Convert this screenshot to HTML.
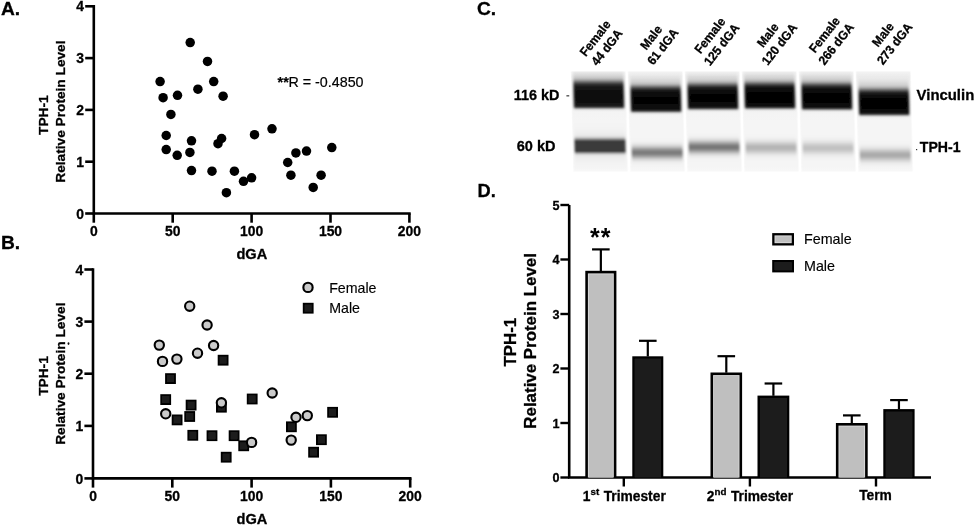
<!DOCTYPE html>
<html><head><meta charset="utf-8"><style>
html,body{margin:0;padding:0;background:#fff;width:975px;height:527px;overflow:hidden}
svg{display:block}
text{font-family:"Liberation Sans",sans-serif}
.b{font-weight:bold;stroke:#000;stroke-width:0.3px}
</style></head><body>
<svg width="975" height="527" viewBox="0 0 975 527">
<defs>
<filter id="bl" x="-20%" y="-60%" width="140%" height="220%"><feGaussianBlur stdDeviation="0.8 1.6"/></filter>
<filter id="bl2" x="-20%" y="-60%" width="140%" height="220%"><feGaussianBlur stdDeviation="0.8 1.2"/></filter>
<linearGradient id="lanebg" x1="0" y1="0" x2="0" y2="1">
<stop offset="0" stop-color="#f4f4f4"/><stop offset="0.1" stop-color="#e6e6e6"/><stop offset="1" stop-color="#f3f3f3"/>
</linearGradient>
<filter id="gb" x="0" y="0" width="100%" height="100%" filterUnits="userSpaceOnUse"><feGaussianBlur stdDeviation="0.35"/></filter>
</defs>
<rect width="975" height="527" fill="#fff"/>
<g filter="url(#gb)">

<text class="b" x="1.0" y="14.6" font-size="19.2">A.</text>
<path d="M93.8 6.3V213.5H409.4" fill="none" stroke="#000" stroke-width="2.6" stroke-linecap="square"/>
<line x1="85.2" y1="213.5" x2="93.8" y2="213.5" stroke="#000" stroke-width="2.6"/>
<text class="b" x="84.0" y="218.6" font-size="13.9" text-anchor="end">0</text>
<line x1="85.2" y1="161.7" x2="93.8" y2="161.7" stroke="#000" stroke-width="2.6"/>
<text class="b" x="84.0" y="166.79999999999998" font-size="13.9" text-anchor="end">1</text>
<line x1="85.2" y1="109.9" x2="93.8" y2="109.9" stroke="#000" stroke-width="2.6"/>
<text class="b" x="84.0" y="115.0" font-size="13.9" text-anchor="end">2</text>
<line x1="85.2" y1="58.1" x2="93.8" y2="58.1" stroke="#000" stroke-width="2.6"/>
<text class="b" x="84.0" y="63.2" font-size="13.9" text-anchor="end">3</text>
<line x1="85.2" y1="6.3" x2="93.8" y2="6.3" stroke="#000" stroke-width="2.6"/>
<text class="b" x="84.0" y="11.399999999999999" font-size="13.9" text-anchor="end">4</text>
<line x1="93.8" y1="213.5" x2="93.8" y2="222.7" stroke="#000" stroke-width="2.6"/>
<text class="b" x="93.8" y="235.9" font-size="13.9" text-anchor="middle">0</text>
<line x1="172.7" y1="213.5" x2="172.7" y2="222.7" stroke="#000" stroke-width="2.6"/>
<text class="b" x="172.7" y="235.9" font-size="13.9" text-anchor="middle">50</text>
<line x1="251.6" y1="213.5" x2="251.6" y2="222.7" stroke="#000" stroke-width="2.6"/>
<text class="b" x="251.6" y="235.9" font-size="13.9" text-anchor="middle">100</text>
<line x1="330.5" y1="213.5" x2="330.5" y2="222.7" stroke="#000" stroke-width="2.6"/>
<text class="b" x="330.5" y="235.9" font-size="13.9" text-anchor="middle">150</text>
<line x1="409.4" y1="213.5" x2="409.4" y2="222.7" stroke="#000" stroke-width="2.6"/>
<text class="b" x="409.4" y="235.9" font-size="13.9" text-anchor="middle">200</text>
<text class="b" x="251.8" y="259.3" font-size="14.6" text-anchor="middle">dGA</text>
<text class="b" font-size="13.7" text-anchor="middle" transform="translate(64.8 111.6) rotate(-90)">Relative Protein Level</text>
<text class="b" font-size="13.7" text-anchor="middle" transform="translate(48.3 115.2) rotate(-90)">TPH-1</text>
<text x="277.6" y="87" font-size="14.3" stroke="#000" stroke-width="0.2"><tspan font-weight="bold" dy="-0.3">**</tspan><tspan dy="0.3" dx="-0.3">R = -0.4850</tspan></text>
<circle cx="190.2" cy="42.6" r="4.75" fill="#000"/>
<circle cx="207.5" cy="61.4" r="4.75" fill="#000"/>
<circle cx="160.1" cy="81.6" r="4.75" fill="#000"/>
<circle cx="213.7" cy="81.6" r="4.75" fill="#000"/>
<circle cx="197.9" cy="89.2" r="4.75" fill="#000"/>
<circle cx="163.1" cy="97.7" r="4.75" fill="#000"/>
<circle cx="177.5" cy="95.3" r="4.75" fill="#000"/>
<circle cx="223.1" cy="96.2" r="4.75" fill="#000"/>
<circle cx="170.9" cy="114.4" r="4.75" fill="#000"/>
<circle cx="166.2" cy="135.5" r="4.75" fill="#000"/>
<circle cx="191.5" cy="140.8" r="4.75" fill="#000"/>
<circle cx="221.6" cy="138.5" r="4.75" fill="#000"/>
<circle cx="218.0" cy="143.7" r="4.75" fill="#000"/>
<circle cx="254.5" cy="134.7" r="4.75" fill="#000"/>
<circle cx="166.2" cy="149.6" r="4.75" fill="#000"/>
<circle cx="177.2" cy="155.3" r="4.75" fill="#000"/>
<circle cx="189.9" cy="152.4" r="4.75" fill="#000"/>
<circle cx="191.5" cy="170.6" r="4.75" fill="#000"/>
<circle cx="212.0" cy="171.2" r="4.75" fill="#000"/>
<circle cx="234.4" cy="171.2" r="4.75" fill="#000"/>
<circle cx="243.5" cy="181.3" r="4.75" fill="#000"/>
<circle cx="251.6" cy="177.8" r="4.75" fill="#000"/>
<circle cx="226.4" cy="192.7" r="4.75" fill="#000"/>
<circle cx="272.0" cy="128.8" r="4.75" fill="#000"/>
<circle cx="295.9" cy="152.9" r="4.75" fill="#000"/>
<circle cx="306.5" cy="151.1" r="4.75" fill="#000"/>
<circle cx="331.8" cy="147.6" r="4.75" fill="#000"/>
<circle cx="287.7" cy="162.5" r="4.75" fill="#000"/>
<circle cx="290.9" cy="175.2" r="4.75" fill="#000"/>
<circle cx="321.1" cy="175.2" r="4.75" fill="#000"/>
<circle cx="313.2" cy="187.4" r="4.75" fill="#000"/>
<text class="b" x="1.0" y="248.6" font-size="19.2">B.</text>
<path d="M93.0 269.5V478.4H410.2" fill="none" stroke="#000" stroke-width="2.6" stroke-linecap="square"/>
<line x1="84.4" y1="478.4" x2="93.0" y2="478.4" stroke="#000" stroke-width="2.6"/>
<text class="b" x="83.2" y="483.5" font-size="13.9" text-anchor="end">0</text>
<line x1="84.4" y1="425.9" x2="93.0" y2="425.9" stroke="#000" stroke-width="2.6"/>
<text class="b" x="83.2" y="431.0" font-size="13.9" text-anchor="end">1</text>
<line x1="84.4" y1="373.7" x2="93.0" y2="373.7" stroke="#000" stroke-width="2.6"/>
<text class="b" x="83.2" y="378.8" font-size="13.9" text-anchor="end">2</text>
<line x1="84.4" y1="321.6" x2="93.0" y2="321.6" stroke="#000" stroke-width="2.6"/>
<text class="b" x="83.2" y="326.70000000000005" font-size="13.9" text-anchor="end">3</text>
<line x1="84.4" y1="269.5" x2="93.0" y2="269.5" stroke="#000" stroke-width="2.6"/>
<text class="b" x="83.2" y="274.6" font-size="13.9" text-anchor="end">4</text>
<line x1="93.0" y1="478.4" x2="93.0" y2="487.59999999999997" stroke="#000" stroke-width="2.6"/>
<text class="b" x="93.0" y="500.6" font-size="13.9" text-anchor="middle">0</text>
<line x1="172.3" y1="478.4" x2="172.3" y2="487.59999999999997" stroke="#000" stroke-width="2.6"/>
<text class="b" x="172.3" y="500.6" font-size="13.9" text-anchor="middle">50</text>
<line x1="251.6" y1="478.4" x2="251.6" y2="487.59999999999997" stroke="#000" stroke-width="2.6"/>
<text class="b" x="251.6" y="500.6" font-size="13.9" text-anchor="middle">100</text>
<line x1="330.9" y1="478.4" x2="330.9" y2="487.59999999999997" stroke="#000" stroke-width="2.6"/>
<text class="b" x="330.9" y="500.6" font-size="13.9" text-anchor="middle">150</text>
<line x1="410.2" y1="478.4" x2="410.2" y2="487.59999999999997" stroke="#000" stroke-width="2.6"/>
<text class="b" x="410.2" y="500.6" font-size="13.9" text-anchor="middle">200</text>
<text class="b" x="252" y="524.4" font-size="14.6" text-anchor="middle">dGA</text>
<text class="b" font-size="13.7" text-anchor="middle" transform="translate(64.8 373.7) rotate(-90)">Relative Protein Level</text>
<text class="b" font-size="13.7" text-anchor="middle" transform="translate(48.2 376) rotate(-90)">TPH-1</text>
<ellipse cx="68.5" cy="343.6" rx="0.9" ry="1.3" fill="#111"/>
<rect x="218.6" y="355.7" width="9" height="9" fill="#1e1e1e" stroke="#000" stroke-width="1.8"/>
<rect x="166.0" y="374.09999999999997" width="9" height="9" fill="#1e1e1e" stroke="#000" stroke-width="1.8"/>
<rect x="161.2" y="395.09999999999997" width="9" height="9" fill="#1e1e1e" stroke="#000" stroke-width="1.8"/>
<rect x="186.6" y="400.59999999999997" width="9" height="9" fill="#1e1e1e" stroke="#000" stroke-width="1.8"/>
<rect x="216.9" y="402.7" width="9" height="9" fill="#1e1e1e" stroke="#000" stroke-width="1.8"/>
<rect x="247.7" y="394.5" width="9" height="9" fill="#1e1e1e" stroke="#000" stroke-width="1.8"/>
<rect x="172.6" y="415.4" width="9" height="9" fill="#1e1e1e" stroke="#000" stroke-width="1.8"/>
<rect x="185.2" y="412.0" width="9" height="9" fill="#1e1e1e" stroke="#000" stroke-width="1.8"/>
<rect x="188.3" y="430.8" width="9" height="9" fill="#1e1e1e" stroke="#000" stroke-width="1.8"/>
<rect x="207.5" y="431.2" width="9" height="9" fill="#1e1e1e" stroke="#000" stroke-width="1.8"/>
<rect x="229.6" y="431.2" width="9" height="9" fill="#1e1e1e" stroke="#000" stroke-width="1.8"/>
<rect x="239.2" y="441.3" width="9" height="9" fill="#1e1e1e" stroke="#000" stroke-width="1.8"/>
<rect x="221.7" y="452.7" width="9" height="9" fill="#1e1e1e" stroke="#000" stroke-width="1.8"/>
<rect x="328.1" y="407.8" width="9" height="9" fill="#1e1e1e" stroke="#000" stroke-width="1.8"/>
<rect x="286.9" y="422.3" width="9" height="9" fill="#1e1e1e" stroke="#000" stroke-width="1.8"/>
<rect x="316.9" y="435.2" width="9" height="9" fill="#1e1e1e" stroke="#000" stroke-width="1.8"/>
<rect x="309.1" y="447.7" width="9" height="9" fill="#1e1e1e" stroke="#000" stroke-width="1.8"/>
<circle cx="189.7" cy="306.2" r="4.65" fill="#cacaca" stroke="#000" stroke-width="2.1"/>
<circle cx="207.1" cy="325.0" r="4.65" fill="#cacaca" stroke="#000" stroke-width="2.1"/>
<circle cx="159.3" cy="345.1" r="4.65" fill="#cacaca" stroke="#000" stroke-width="2.1"/>
<circle cx="213.6" cy="345.5" r="4.65" fill="#cacaca" stroke="#000" stroke-width="2.1"/>
<circle cx="197.5" cy="353.2" r="4.65" fill="#cacaca" stroke="#000" stroke-width="2.1"/>
<circle cx="162.5" cy="361.4" r="4.65" fill="#cacaca" stroke="#000" stroke-width="2.1"/>
<circle cx="176.9" cy="359.1" r="4.65" fill="#cacaca" stroke="#000" stroke-width="2.1"/>
<circle cx="221.4" cy="402.8" r="4.65" fill="#cacaca" stroke="#000" stroke-width="2.1"/>
<circle cx="165.7" cy="413.8" r="4.65" fill="#cacaca" stroke="#000" stroke-width="2.1"/>
<circle cx="251.6" cy="442.4" r="4.65" fill="#cacaca" stroke="#000" stroke-width="2.1"/>
<circle cx="272.2" cy="393.0" r="4.65" fill="#cacaca" stroke="#000" stroke-width="2.1"/>
<circle cx="296.0" cy="417.3" r="4.65" fill="#cacaca" stroke="#000" stroke-width="2.1"/>
<circle cx="307.3" cy="415.6" r="4.65" fill="#cacaca" stroke="#000" stroke-width="2.1"/>
<circle cx="291.2" cy="440.1" r="4.65" fill="#cacaca" stroke="#000" stroke-width="2.1"/>
<circle cx="308" cy="287.4" r="4.65" fill="#cacaca" stroke="#000" stroke-width="2.1"/>
<rect x="303.7" y="303.7" width="9" height="9" fill="#1e1e1e" stroke="#000" stroke-width="1.8"/>
<text x="329.2" y="292.6" font-size="14.2" stroke="#000" stroke-width="0.15">Female</text>
<text x="329.2" y="313.4" font-size="14.2" stroke="#000" stroke-width="0.15">Male</text>
<text class="b" x="477.0" y="14.6" font-size="19.2">C.</text>
<defs><linearGradient id="ug0" gradientUnits="userSpaceOnUse" x1="0" y1="71.4" x2="0" y2="171.6"><stop offset="0.000" stop-color="#000" stop-opacity="0.032"/><stop offset="0.005" stop-color="#000" stop-opacity="0.039"/><stop offset="0.010" stop-color="#000" stop-opacity="0.046"/><stop offset="0.015" stop-color="#000" stop-opacity="0.054"/><stop offset="0.020" stop-color="#000" stop-opacity="0.062"/><stop offset="0.025" stop-color="#000" stop-opacity="0.071"/><stop offset="0.030" stop-color="#000" stop-opacity="0.079"/><stop offset="0.035" stop-color="#000" stop-opacity="0.088"/><stop offset="0.040" stop-color="#000" stop-opacity="0.098"/><stop offset="0.045" stop-color="#000" stop-opacity="0.108"/><stop offset="0.050" stop-color="#000" stop-opacity="0.120"/><stop offset="0.055" stop-color="#000" stop-opacity="0.134"/><stop offset="0.060" stop-color="#000" stop-opacity="0.152"/><stop offset="0.065" stop-color="#000" stop-opacity="0.174"/><stop offset="0.070" stop-color="#000" stop-opacity="0.201"/><stop offset="0.075" stop-color="#000" stop-opacity="0.235"/><stop offset="0.080" stop-color="#000" stop-opacity="0.274"/><stop offset="0.085" stop-color="#000" stop-opacity="0.320"/><stop offset="0.090" stop-color="#000" stop-opacity="0.370"/><stop offset="0.095" stop-color="#000" stop-opacity="0.425"/><stop offset="0.100" stop-color="#000" stop-opacity="0.483"/><stop offset="0.105" stop-color="#000" stop-opacity="0.541"/><stop offset="0.110" stop-color="#000" stop-opacity="0.598"/><stop offset="0.115" stop-color="#000" stop-opacity="0.652"/><stop offset="0.120" stop-color="#000" stop-opacity="0.702"/><stop offset="0.125" stop-color="#000" stop-opacity="0.746"/><stop offset="0.130" stop-color="#000" stop-opacity="0.785"/><stop offset="0.135" stop-color="#000" stop-opacity="0.817"/><stop offset="0.140" stop-color="#000" stop-opacity="0.843"/><stop offset="0.145" stop-color="#000" stop-opacity="0.864"/><stop offset="0.150" stop-color="#000" stop-opacity="0.881"/><stop offset="0.155" stop-color="#000" stop-opacity="0.894"/><stop offset="0.160" stop-color="#000" stop-opacity="0.904"/><stop offset="0.165" stop-color="#000" stop-opacity="0.912"/><stop offset="0.170" stop-color="#000" stop-opacity="0.918"/><stop offset="0.175" stop-color="#000" stop-opacity="0.923"/><stop offset="0.180" stop-color="#000" stop-opacity="0.927"/><stop offset="0.185" stop-color="#000" stop-opacity="0.931"/><stop offset="0.190" stop-color="#000" stop-opacity="0.934"/><stop offset="0.195" stop-color="#000" stop-opacity="0.938"/><stop offset="0.200" stop-color="#000" stop-opacity="0.940"/><stop offset="0.205" stop-color="#000" stop-opacity="0.943"/><stop offset="0.210" stop-color="#000" stop-opacity="0.946"/><stop offset="0.215" stop-color="#000" stop-opacity="0.948"/><stop offset="0.220" stop-color="#000" stop-opacity="0.950"/><stop offset="0.225" stop-color="#000" stop-opacity="0.952"/><stop offset="0.230" stop-color="#000" stop-opacity="0.953"/><stop offset="0.235" stop-color="#000" stop-opacity="0.954"/><stop offset="0.240" stop-color="#000" stop-opacity="0.955"/><stop offset="0.245" stop-color="#000" stop-opacity="0.955"/><stop offset="0.250" stop-color="#000" stop-opacity="0.955"/><stop offset="0.255" stop-color="#000" stop-opacity="0.955"/><stop offset="0.260" stop-color="#000" stop-opacity="0.954"/><stop offset="0.265" stop-color="#000" stop-opacity="0.953"/><stop offset="0.270" stop-color="#000" stop-opacity="0.951"/><stop offset="0.275" stop-color="#000" stop-opacity="0.949"/><stop offset="0.280" stop-color="#000" stop-opacity="0.947"/><stop offset="0.285" stop-color="#000" stop-opacity="0.945"/><stop offset="0.290" stop-color="#000" stop-opacity="0.942"/><stop offset="0.295" stop-color="#000" stop-opacity="0.939"/><stop offset="0.300" stop-color="#000" stop-opacity="0.936"/><stop offset="0.305" stop-color="#000" stop-opacity="0.934"/><stop offset="0.310" stop-color="#000" stop-opacity="0.931"/><stop offset="0.315" stop-color="#000" stop-opacity="0.927"/><stop offset="0.320" stop-color="#000" stop-opacity="0.924"/><stop offset="0.325" stop-color="#000" stop-opacity="0.920"/><stop offset="0.330" stop-color="#000" stop-opacity="0.915"/><stop offset="0.335" stop-color="#000" stop-opacity="0.905"/><stop offset="0.340" stop-color="#000" stop-opacity="0.886"/><stop offset="0.345" stop-color="#000" stop-opacity="0.853"/><stop offset="0.350" stop-color="#000" stop-opacity="0.798"/><stop offset="0.355" stop-color="#000" stop-opacity="0.717"/><stop offset="0.360" stop-color="#000" stop-opacity="0.609"/><stop offset="0.365" stop-color="#000" stop-opacity="0.485"/><stop offset="0.370" stop-color="#000" stop-opacity="0.356"/><stop offset="0.375" stop-color="#000" stop-opacity="0.240"/><stop offset="0.380" stop-color="#000" stop-opacity="0.146"/><stop offset="0.385" stop-color="#000" stop-opacity="0.081"/><stop offset="0.390" stop-color="#000" stop-opacity="0.040"/><stop offset="0.395" stop-color="#000" stop-opacity="0.018"/><stop offset="0.400" stop-color="#000" stop-opacity="0.007"/><stop offset="0.405" stop-color="#000" stop-opacity="0.002"/><stop offset="0.410" stop-color="#000" stop-opacity="0.001"/><stop offset="0.415" stop-color="#000" stop-opacity="0.000"/><stop offset="0.420" stop-color="#000" stop-opacity="0.000"/><stop offset="0.425" stop-color="#000" stop-opacity="0.000"/><stop offset="0.430" stop-color="#000" stop-opacity="0.000"/><stop offset="0.435" stop-color="#000" stop-opacity="0.000"/><stop offset="0.440" stop-color="#000" stop-opacity="0.000"/><stop offset="0.445" stop-color="#000" stop-opacity="0.000"/><stop offset="0.450" stop-color="#000" stop-opacity="0.000"/><stop offset="0.455" stop-color="#000" stop-opacity="0.000"/><stop offset="0.460" stop-color="#000" stop-opacity="0.000"/><stop offset="0.465" stop-color="#000" stop-opacity="0.000"/><stop offset="0.470" stop-color="#000" stop-opacity="0.000"/><stop offset="0.475" stop-color="#000" stop-opacity="0.000"/><stop offset="0.480" stop-color="#000" stop-opacity="0.000"/><stop offset="0.485" stop-color="#000" stop-opacity="0.000"/><stop offset="0.490" stop-color="#000" stop-opacity="0.000"/><stop offset="0.495" stop-color="#000" stop-opacity="0.000"/><stop offset="0.500" stop-color="#000" stop-opacity="0.000"/><stop offset="0.505" stop-color="#000" stop-opacity="0.000"/><stop offset="0.510" stop-color="#000" stop-opacity="0.000"/><stop offset="0.515" stop-color="#000" stop-opacity="0.000"/><stop offset="0.520" stop-color="#000" stop-opacity="0.000"/><stop offset="0.525" stop-color="#000" stop-opacity="0.000"/><stop offset="0.530" stop-color="#000" stop-opacity="0.000"/><stop offset="0.535" stop-color="#000" stop-opacity="0.000"/><stop offset="0.540" stop-color="#000" stop-opacity="0.000"/><stop offset="0.545" stop-color="#000" stop-opacity="0.000"/><stop offset="0.550" stop-color="#000" stop-opacity="0.000"/><stop offset="0.555" stop-color="#000" stop-opacity="0.000"/><stop offset="0.560" stop-color="#000" stop-opacity="0.000"/><stop offset="0.565" stop-color="#000" stop-opacity="0.000"/><stop offset="0.570" stop-color="#000" stop-opacity="0.000"/><stop offset="0.575" stop-color="#000" stop-opacity="0.000"/><stop offset="0.580" stop-color="#000" stop-opacity="0.000"/><stop offset="0.585" stop-color="#000" stop-opacity="0.000"/><stop offset="0.590" stop-color="#000" stop-opacity="0.000"/><stop offset="0.595" stop-color="#000" stop-opacity="0.000"/><stop offset="0.600" stop-color="#000" stop-opacity="0.000"/><stop offset="0.605" stop-color="#000" stop-opacity="0.000"/><stop offset="0.610" stop-color="#000" stop-opacity="0.000"/><stop offset="0.615" stop-color="#000" stop-opacity="0.000"/><stop offset="0.620" stop-color="#000" stop-opacity="0.000"/><stop offset="0.625" stop-color="#000" stop-opacity="0.000"/><stop offset="0.630" stop-color="#000" stop-opacity="0.000"/><stop offset="0.635" stop-color="#000" stop-opacity="0.000"/><stop offset="0.640" stop-color="#000" stop-opacity="0.000"/><stop offset="0.645" stop-color="#000" stop-opacity="0.000"/><stop offset="0.650" stop-color="#000" stop-opacity="0.000"/><stop offset="0.655" stop-color="#000" stop-opacity="0.000"/><stop offset="0.660" stop-color="#000" stop-opacity="0.000"/><stop offset="0.665" stop-color="#000" stop-opacity="0.000"/><stop offset="0.670" stop-color="#000" stop-opacity="0.000"/><stop offset="0.675" stop-color="#000" stop-opacity="0.000"/><stop offset="0.680" stop-color="#000" stop-opacity="0.000"/><stop offset="0.685" stop-color="#000" stop-opacity="0.000"/><stop offset="0.690" stop-color="#000" stop-opacity="0.000"/><stop offset="0.695" stop-color="#000" stop-opacity="0.000"/><stop offset="0.700" stop-color="#000" stop-opacity="0.000"/><stop offset="0.705" stop-color="#000" stop-opacity="0.000"/><stop offset="0.710" stop-color="#000" stop-opacity="0.000"/><stop offset="0.715" stop-color="#000" stop-opacity="0.000"/><stop offset="0.720" stop-color="#000" stop-opacity="0.000"/><stop offset="0.725" stop-color="#000" stop-opacity="0.000"/><stop offset="0.730" stop-color="#000" stop-opacity="0.000"/><stop offset="0.735" stop-color="#000" stop-opacity="0.000"/><stop offset="0.740" stop-color="#000" stop-opacity="0.000"/><stop offset="0.745" stop-color="#000" stop-opacity="0.000"/><stop offset="0.750" stop-color="#000" stop-opacity="0.000"/><stop offset="0.755" stop-color="#000" stop-opacity="0.000"/><stop offset="0.760" stop-color="#000" stop-opacity="0.000"/><stop offset="0.765" stop-color="#000" stop-opacity="0.000"/><stop offset="0.770" stop-color="#000" stop-opacity="0.000"/><stop offset="0.775" stop-color="#000" stop-opacity="0.000"/><stop offset="0.780" stop-color="#000" stop-opacity="0.000"/><stop offset="0.785" stop-color="#000" stop-opacity="0.000"/><stop offset="0.790" stop-color="#000" stop-opacity="0.000"/><stop offset="0.795" stop-color="#000" stop-opacity="0.000"/><stop offset="0.800" stop-color="#000" stop-opacity="0.000"/><stop offset="0.805" stop-color="#000" stop-opacity="0.000"/><stop offset="0.810" stop-color="#000" stop-opacity="0.000"/><stop offset="0.815" stop-color="#000" stop-opacity="0.000"/><stop offset="0.820" stop-color="#000" stop-opacity="0.000"/><stop offset="0.825" stop-color="#000" stop-opacity="0.000"/><stop offset="0.830" stop-color="#000" stop-opacity="0.000"/><stop offset="0.835" stop-color="#000" stop-opacity="0.000"/><stop offset="0.840" stop-color="#000" stop-opacity="0.000"/><stop offset="0.845" stop-color="#000" stop-opacity="0.000"/><stop offset="0.850" stop-color="#000" stop-opacity="0.000"/><stop offset="0.855" stop-color="#000" stop-opacity="0.000"/><stop offset="0.860" stop-color="#000" stop-opacity="0.000"/><stop offset="0.865" stop-color="#000" stop-opacity="0.000"/><stop offset="0.870" stop-color="#000" stop-opacity="0.000"/><stop offset="0.875" stop-color="#000" stop-opacity="0.000"/><stop offset="0.880" stop-color="#000" stop-opacity="0.000"/><stop offset="0.885" stop-color="#000" stop-opacity="0.000"/><stop offset="0.890" stop-color="#000" stop-opacity="0.000"/><stop offset="0.895" stop-color="#000" stop-opacity="0.000"/><stop offset="0.900" stop-color="#000" stop-opacity="0.000"/><stop offset="0.905" stop-color="#000" stop-opacity="0.000"/><stop offset="0.910" stop-color="#000" stop-opacity="0.000"/><stop offset="0.915" stop-color="#000" stop-opacity="0.000"/><stop offset="0.920" stop-color="#000" stop-opacity="0.000"/><stop offset="0.925" stop-color="#000" stop-opacity="0.000"/><stop offset="0.930" stop-color="#000" stop-opacity="0.000"/><stop offset="0.935" stop-color="#000" stop-opacity="0.000"/><stop offset="0.940" stop-color="#000" stop-opacity="0.000"/><stop offset="0.945" stop-color="#000" stop-opacity="0.000"/><stop offset="0.950" stop-color="#000" stop-opacity="0.000"/><stop offset="0.955" stop-color="#000" stop-opacity="0.000"/><stop offset="0.960" stop-color="#000" stop-opacity="0.000"/><stop offset="0.965" stop-color="#000" stop-opacity="0.000"/><stop offset="0.970" stop-color="#000" stop-opacity="0.000"/><stop offset="0.975" stop-color="#000" stop-opacity="0.000"/><stop offset="0.980" stop-color="#000" stop-opacity="0.000"/><stop offset="0.985" stop-color="#000" stop-opacity="0.000"/><stop offset="0.990" stop-color="#000" stop-opacity="0.000"/><stop offset="0.995" stop-color="#000" stop-opacity="0.000"/><stop offset="1.000" stop-color="#000" stop-opacity="0.000"/></linearGradient><linearGradient id="lg0" gradientUnits="userSpaceOnUse" x1="0" y1="71.4" x2="0" y2="171.6"><stop offset="0.000" stop-color="#000" stop-opacity="0.000"/><stop offset="0.005" stop-color="#000" stop-opacity="0.000"/><stop offset="0.010" stop-color="#000" stop-opacity="0.000"/><stop offset="0.015" stop-color="#000" stop-opacity="0.000"/><stop offset="0.020" stop-color="#000" stop-opacity="0.000"/><stop offset="0.025" stop-color="#000" stop-opacity="0.000"/><stop offset="0.030" stop-color="#000" stop-opacity="0.000"/><stop offset="0.035" stop-color="#000" stop-opacity="0.000"/><stop offset="0.040" stop-color="#000" stop-opacity="0.000"/><stop offset="0.045" stop-color="#000" stop-opacity="0.000"/><stop offset="0.050" stop-color="#000" stop-opacity="0.000"/><stop offset="0.055" stop-color="#000" stop-opacity="0.000"/><stop offset="0.060" stop-color="#000" stop-opacity="0.000"/><stop offset="0.065" stop-color="#000" stop-opacity="0.000"/><stop offset="0.070" stop-color="#000" stop-opacity="0.000"/><stop offset="0.075" stop-color="#000" stop-opacity="0.000"/><stop offset="0.080" stop-color="#000" stop-opacity="0.000"/><stop offset="0.085" stop-color="#000" stop-opacity="0.000"/><stop offset="0.090" stop-color="#000" stop-opacity="0.000"/><stop offset="0.095" stop-color="#000" stop-opacity="0.000"/><stop offset="0.100" stop-color="#000" stop-opacity="0.000"/><stop offset="0.105" stop-color="#000" stop-opacity="0.000"/><stop offset="0.110" stop-color="#000" stop-opacity="0.000"/><stop offset="0.115" stop-color="#000" stop-opacity="0.000"/><stop offset="0.120" stop-color="#000" stop-opacity="0.000"/><stop offset="0.125" stop-color="#000" stop-opacity="0.000"/><stop offset="0.130" stop-color="#000" stop-opacity="0.000"/><stop offset="0.135" stop-color="#000" stop-opacity="0.000"/><stop offset="0.140" stop-color="#000" stop-opacity="0.000"/><stop offset="0.145" stop-color="#000" stop-opacity="0.000"/><stop offset="0.150" stop-color="#000" stop-opacity="0.000"/><stop offset="0.155" stop-color="#000" stop-opacity="0.000"/><stop offset="0.160" stop-color="#000" stop-opacity="0.000"/><stop offset="0.165" stop-color="#000" stop-opacity="0.000"/><stop offset="0.170" stop-color="#000" stop-opacity="0.000"/><stop offset="0.175" stop-color="#000" stop-opacity="0.000"/><stop offset="0.180" stop-color="#000" stop-opacity="0.000"/><stop offset="0.185" stop-color="#000" stop-opacity="0.000"/><stop offset="0.190" stop-color="#000" stop-opacity="0.000"/><stop offset="0.195" stop-color="#000" stop-opacity="0.000"/><stop offset="0.200" stop-color="#000" stop-opacity="0.000"/><stop offset="0.205" stop-color="#000" stop-opacity="0.000"/><stop offset="0.210" stop-color="#000" stop-opacity="0.000"/><stop offset="0.215" stop-color="#000" stop-opacity="0.000"/><stop offset="0.220" stop-color="#000" stop-opacity="0.000"/><stop offset="0.225" stop-color="#000" stop-opacity="0.000"/><stop offset="0.230" stop-color="#000" stop-opacity="0.000"/><stop offset="0.235" stop-color="#000" stop-opacity="0.000"/><stop offset="0.240" stop-color="#000" stop-opacity="0.000"/><stop offset="0.245" stop-color="#000" stop-opacity="0.000"/><stop offset="0.250" stop-color="#000" stop-opacity="0.000"/><stop offset="0.255" stop-color="#000" stop-opacity="0.000"/><stop offset="0.260" stop-color="#000" stop-opacity="0.000"/><stop offset="0.265" stop-color="#000" stop-opacity="0.000"/><stop offset="0.270" stop-color="#000" stop-opacity="0.000"/><stop offset="0.275" stop-color="#000" stop-opacity="0.000"/><stop offset="0.280" stop-color="#000" stop-opacity="0.000"/><stop offset="0.285" stop-color="#000" stop-opacity="0.000"/><stop offset="0.290" stop-color="#000" stop-opacity="0.000"/><stop offset="0.295" stop-color="#000" stop-opacity="0.000"/><stop offset="0.300" stop-color="#000" stop-opacity="0.000"/><stop offset="0.305" stop-color="#000" stop-opacity="0.000"/><stop offset="0.310" stop-color="#000" stop-opacity="0.000"/><stop offset="0.315" stop-color="#000" stop-opacity="0.000"/><stop offset="0.320" stop-color="#000" stop-opacity="0.000"/><stop offset="0.325" stop-color="#000" stop-opacity="0.000"/><stop offset="0.330" stop-color="#000" stop-opacity="0.000"/><stop offset="0.335" stop-color="#000" stop-opacity="0.000"/><stop offset="0.340" stop-color="#000" stop-opacity="0.000"/><stop offset="0.345" stop-color="#000" stop-opacity="0.000"/><stop offset="0.350" stop-color="#000" stop-opacity="0.000"/><stop offset="0.355" stop-color="#000" stop-opacity="0.000"/><stop offset="0.360" stop-color="#000" stop-opacity="0.000"/><stop offset="0.365" stop-color="#000" stop-opacity="0.000"/><stop offset="0.370" stop-color="#000" stop-opacity="0.000"/><stop offset="0.375" stop-color="#000" stop-opacity="0.000"/><stop offset="0.380" stop-color="#000" stop-opacity="0.000"/><stop offset="0.385" stop-color="#000" stop-opacity="0.000"/><stop offset="0.390" stop-color="#000" stop-opacity="0.000"/><stop offset="0.395" stop-color="#000" stop-opacity="0.000"/><stop offset="0.400" stop-color="#000" stop-opacity="0.000"/><stop offset="0.405" stop-color="#000" stop-opacity="0.000"/><stop offset="0.410" stop-color="#000" stop-opacity="0.000"/><stop offset="0.415" stop-color="#000" stop-opacity="0.000"/><stop offset="0.420" stop-color="#000" stop-opacity="0.000"/><stop offset="0.425" stop-color="#000" stop-opacity="0.000"/><stop offset="0.430" stop-color="#000" stop-opacity="0.000"/><stop offset="0.435" stop-color="#000" stop-opacity="0.000"/><stop offset="0.440" stop-color="#000" stop-opacity="0.000"/><stop offset="0.445" stop-color="#000" stop-opacity="0.000"/><stop offset="0.450" stop-color="#000" stop-opacity="0.000"/><stop offset="0.455" stop-color="#000" stop-opacity="0.000"/><stop offset="0.460" stop-color="#000" stop-opacity="0.000"/><stop offset="0.465" stop-color="#000" stop-opacity="0.000"/><stop offset="0.470" stop-color="#000" stop-opacity="0.000"/><stop offset="0.475" stop-color="#000" stop-opacity="0.000"/><stop offset="0.480" stop-color="#000" stop-opacity="0.000"/><stop offset="0.485" stop-color="#000" stop-opacity="0.001"/><stop offset="0.490" stop-color="#000" stop-opacity="0.001"/><stop offset="0.495" stop-color="#000" stop-opacity="0.001"/><stop offset="0.500" stop-color="#000" stop-opacity="0.001"/><stop offset="0.505" stop-color="#000" stop-opacity="0.001"/><stop offset="0.510" stop-color="#000" stop-opacity="0.002"/><stop offset="0.515" stop-color="#000" stop-opacity="0.002"/><stop offset="0.520" stop-color="#000" stop-opacity="0.002"/><stop offset="0.525" stop-color="#000" stop-opacity="0.003"/><stop offset="0.530" stop-color="#000" stop-opacity="0.003"/><stop offset="0.535" stop-color="#000" stop-opacity="0.003"/><stop offset="0.540" stop-color="#000" stop-opacity="0.004"/><stop offset="0.545" stop-color="#000" stop-opacity="0.005"/><stop offset="0.550" stop-color="#000" stop-opacity="0.005"/><stop offset="0.555" stop-color="#000" stop-opacity="0.006"/><stop offset="0.560" stop-color="#000" stop-opacity="0.007"/><stop offset="0.565" stop-color="#000" stop-opacity="0.008"/><stop offset="0.570" stop-color="#000" stop-opacity="0.009"/><stop offset="0.575" stop-color="#000" stop-opacity="0.011"/><stop offset="0.580" stop-color="#000" stop-opacity="0.012"/><stop offset="0.585" stop-color="#000" stop-opacity="0.014"/><stop offset="0.590" stop-color="#000" stop-opacity="0.015"/><stop offset="0.595" stop-color="#000" stop-opacity="0.017"/><stop offset="0.600" stop-color="#000" stop-opacity="0.019"/><stop offset="0.605" stop-color="#000" stop-opacity="0.021"/><stop offset="0.610" stop-color="#000" stop-opacity="0.024"/><stop offset="0.615" stop-color="#000" stop-opacity="0.027"/><stop offset="0.620" stop-color="#000" stop-opacity="0.030"/><stop offset="0.625" stop-color="#000" stop-opacity="0.034"/><stop offset="0.630" stop-color="#000" stop-opacity="0.040"/><stop offset="0.635" stop-color="#000" stop-opacity="0.048"/><stop offset="0.640" stop-color="#000" stop-opacity="0.060"/><stop offset="0.645" stop-color="#000" stop-opacity="0.078"/><stop offset="0.650" stop-color="#000" stop-opacity="0.104"/><stop offset="0.655" stop-color="#000" stop-opacity="0.140"/><stop offset="0.660" stop-color="#000" stop-opacity="0.187"/><stop offset="0.665" stop-color="#000" stop-opacity="0.245"/><stop offset="0.670" stop-color="#000" stop-opacity="0.313"/><stop offset="0.675" stop-color="#000" stop-opacity="0.389"/><stop offset="0.680" stop-color="#000" stop-opacity="0.467"/><stop offset="0.685" stop-color="#000" stop-opacity="0.545"/><stop offset="0.690" stop-color="#000" stop-opacity="0.617"/><stop offset="0.695" stop-color="#000" stop-opacity="0.679"/><stop offset="0.700" stop-color="#000" stop-opacity="0.731"/><stop offset="0.705" stop-color="#000" stop-opacity="0.760"/><stop offset="0.710" stop-color="#000" stop-opacity="0.760"/><stop offset="0.715" stop-color="#000" stop-opacity="0.760"/><stop offset="0.720" stop-color="#000" stop-opacity="0.760"/><stop offset="0.725" stop-color="#000" stop-opacity="0.760"/><stop offset="0.730" stop-color="#000" stop-opacity="0.760"/><stop offset="0.735" stop-color="#000" stop-opacity="0.760"/><stop offset="0.740" stop-color="#000" stop-opacity="0.760"/><stop offset="0.745" stop-color="#000" stop-opacity="0.760"/><stop offset="0.750" stop-color="#000" stop-opacity="0.760"/><stop offset="0.755" stop-color="#000" stop-opacity="0.760"/><stop offset="0.760" stop-color="#000" stop-opacity="0.760"/><stop offset="0.765" stop-color="#000" stop-opacity="0.760"/><stop offset="0.770" stop-color="#000" stop-opacity="0.760"/><stop offset="0.775" stop-color="#000" stop-opacity="0.760"/><stop offset="0.780" stop-color="#000" stop-opacity="0.760"/><stop offset="0.785" stop-color="#000" stop-opacity="0.760"/><stop offset="0.790" stop-color="#000" stop-opacity="0.751"/><stop offset="0.795" stop-color="#000" stop-opacity="0.697"/><stop offset="0.800" stop-color="#000" stop-opacity="0.627"/><stop offset="0.805" stop-color="#000" stop-opacity="0.544"/><stop offset="0.810" stop-color="#000" stop-opacity="0.453"/><stop offset="0.815" stop-color="#000" stop-opacity="0.361"/><stop offset="0.820" stop-color="#000" stop-opacity="0.276"/><stop offset="0.825" stop-color="#000" stop-opacity="0.204"/><stop offset="0.830" stop-color="#000" stop-opacity="0.147"/><stop offset="0.835" stop-color="#000" stop-opacity="0.105"/><stop offset="0.840" stop-color="#000" stop-opacity="0.077"/><stop offset="0.845" stop-color="#000" stop-opacity="0.059"/><stop offset="0.850" stop-color="#000" stop-opacity="0.047"/><stop offset="0.855" stop-color="#000" stop-opacity="0.040"/><stop offset="0.860" stop-color="#000" stop-opacity="0.035"/><stop offset="0.865" stop-color="#000" stop-opacity="0.031"/><stop offset="0.870" stop-color="#000" stop-opacity="0.028"/><stop offset="0.875" stop-color="#000" stop-opacity="0.026"/><stop offset="0.880" stop-color="#000" stop-opacity="0.023"/><stop offset="0.885" stop-color="#000" stop-opacity="0.021"/><stop offset="0.890" stop-color="#000" stop-opacity="0.019"/><stop offset="0.895" stop-color="#000" stop-opacity="0.017"/><stop offset="0.900" stop-color="#000" stop-opacity="0.015"/><stop offset="0.905" stop-color="#000" stop-opacity="0.013"/><stop offset="0.910" stop-color="#000" stop-opacity="0.012"/><stop offset="0.915" stop-color="#000" stop-opacity="0.010"/><stop offset="0.920" stop-color="#000" stop-opacity="0.009"/><stop offset="0.925" stop-color="#000" stop-opacity="0.008"/><stop offset="0.930" stop-color="#000" stop-opacity="0.007"/><stop offset="0.935" stop-color="#000" stop-opacity="0.006"/><stop offset="0.940" stop-color="#000" stop-opacity="0.005"/><stop offset="0.945" stop-color="#000" stop-opacity="0.005"/><stop offset="0.950" stop-color="#000" stop-opacity="0.004"/><stop offset="0.955" stop-color="#000" stop-opacity="0.003"/><stop offset="0.960" stop-color="#000" stop-opacity="0.003"/><stop offset="0.965" stop-color="#000" stop-opacity="0.002"/><stop offset="0.970" stop-color="#000" stop-opacity="0.002"/><stop offset="0.975" stop-color="#000" stop-opacity="0.002"/><stop offset="0.980" stop-color="#000" stop-opacity="0.001"/><stop offset="0.985" stop-color="#000" stop-opacity="0.001"/><stop offset="0.990" stop-color="#000" stop-opacity="0.001"/><stop offset="0.995" stop-color="#000" stop-opacity="0.001"/><stop offset="1.000" stop-color="#000" stop-opacity="0.001"/></linearGradient><linearGradient id="ug1" gradientUnits="userSpaceOnUse" x1="0" y1="71.4" x2="0" y2="171.6"><stop offset="0.000" stop-color="#000" stop-opacity="0.002"/><stop offset="0.005" stop-color="#000" stop-opacity="0.002"/><stop offset="0.010" stop-color="#000" stop-opacity="0.003"/><stop offset="0.015" stop-color="#000" stop-opacity="0.005"/><stop offset="0.020" stop-color="#000" stop-opacity="0.006"/><stop offset="0.025" stop-color="#000" stop-opacity="0.009"/><stop offset="0.030" stop-color="#000" stop-opacity="0.012"/><stop offset="0.035" stop-color="#000" stop-opacity="0.016"/><stop offset="0.040" stop-color="#000" stop-opacity="0.020"/><stop offset="0.045" stop-color="#000" stop-opacity="0.026"/><stop offset="0.050" stop-color="#000" stop-opacity="0.032"/><stop offset="0.055" stop-color="#000" stop-opacity="0.039"/><stop offset="0.060" stop-color="#000" stop-opacity="0.046"/><stop offset="0.065" stop-color="#000" stop-opacity="0.054"/><stop offset="0.070" stop-color="#000" stop-opacity="0.063"/><stop offset="0.075" stop-color="#000" stop-opacity="0.071"/><stop offset="0.080" stop-color="#000" stop-opacity="0.080"/><stop offset="0.085" stop-color="#000" stop-opacity="0.089"/><stop offset="0.090" stop-color="#000" stop-opacity="0.099"/><stop offset="0.095" stop-color="#000" stop-opacity="0.109"/><stop offset="0.100" stop-color="#000" stop-opacity="0.121"/><stop offset="0.105" stop-color="#000" stop-opacity="0.135"/><stop offset="0.110" stop-color="#000" stop-opacity="0.153"/><stop offset="0.115" stop-color="#000" stop-opacity="0.175"/><stop offset="0.120" stop-color="#000" stop-opacity="0.202"/><stop offset="0.125" stop-color="#000" stop-opacity="0.235"/><stop offset="0.130" stop-color="#000" stop-opacity="0.275"/><stop offset="0.135" stop-color="#000" stop-opacity="0.321"/><stop offset="0.140" stop-color="#000" stop-opacity="0.373"/><stop offset="0.145" stop-color="#000" stop-opacity="0.429"/><stop offset="0.150" stop-color="#000" stop-opacity="0.488"/><stop offset="0.155" stop-color="#000" stop-opacity="0.548"/><stop offset="0.160" stop-color="#000" stop-opacity="0.607"/><stop offset="0.165" stop-color="#000" stop-opacity="0.664"/><stop offset="0.170" stop-color="#000" stop-opacity="0.717"/><stop offset="0.175" stop-color="#000" stop-opacity="0.764"/><stop offset="0.180" stop-color="#000" stop-opacity="0.805"/><stop offset="0.185" stop-color="#000" stop-opacity="0.840"/><stop offset="0.190" stop-color="#000" stop-opacity="0.868"/><stop offset="0.195" stop-color="#000" stop-opacity="0.891"/><stop offset="0.200" stop-color="#000" stop-opacity="0.910"/><stop offset="0.205" stop-color="#000" stop-opacity="0.924"/><stop offset="0.210" stop-color="#000" stop-opacity="0.935"/><stop offset="0.215" stop-color="#000" stop-opacity="0.943"/><stop offset="0.220" stop-color="#000" stop-opacity="0.950"/><stop offset="0.225" stop-color="#000" stop-opacity="0.956"/><stop offset="0.230" stop-color="#000" stop-opacity="0.960"/><stop offset="0.235" stop-color="#000" stop-opacity="0.964"/><stop offset="0.240" stop-color="#000" stop-opacity="0.968"/><stop offset="0.245" stop-color="#000" stop-opacity="0.971"/><stop offset="0.250" stop-color="#000" stop-opacity="0.974"/><stop offset="0.255" stop-color="#000" stop-opacity="0.976"/><stop offset="0.260" stop-color="#000" stop-opacity="0.978"/><stop offset="0.265" stop-color="#000" stop-opacity="0.980"/><stop offset="0.270" stop-color="#000" stop-opacity="0.982"/><stop offset="0.275" stop-color="#000" stop-opacity="0.983"/><stop offset="0.280" stop-color="#000" stop-opacity="0.984"/><stop offset="0.285" stop-color="#000" stop-opacity="0.985"/><stop offset="0.290" stop-color="#000" stop-opacity="0.985"/><stop offset="0.295" stop-color="#000" stop-opacity="0.985"/><stop offset="0.300" stop-color="#000" stop-opacity="0.984"/><stop offset="0.305" stop-color="#000" stop-opacity="0.983"/><stop offset="0.310" stop-color="#000" stop-opacity="0.982"/><stop offset="0.315" stop-color="#000" stop-opacity="0.980"/><stop offset="0.320" stop-color="#000" stop-opacity="0.978"/><stop offset="0.325" stop-color="#000" stop-opacity="0.976"/><stop offset="0.330" stop-color="#000" stop-opacity="0.973"/><stop offset="0.335" stop-color="#000" stop-opacity="0.971"/><stop offset="0.340" stop-color="#000" stop-opacity="0.968"/><stop offset="0.345" stop-color="#000" stop-opacity="0.965"/><stop offset="0.350" stop-color="#000" stop-opacity="0.962"/><stop offset="0.355" stop-color="#000" stop-opacity="0.958"/><stop offset="0.360" stop-color="#000" stop-opacity="0.955"/><stop offset="0.365" stop-color="#000" stop-opacity="0.950"/><stop offset="0.370" stop-color="#000" stop-opacity="0.941"/><stop offset="0.375" stop-color="#000" stop-opacity="0.926"/><stop offset="0.380" stop-color="#000" stop-opacity="0.898"/><stop offset="0.385" stop-color="#000" stop-opacity="0.851"/><stop offset="0.390" stop-color="#000" stop-opacity="0.777"/><stop offset="0.395" stop-color="#000" stop-opacity="0.676"/><stop offset="0.400" stop-color="#000" stop-opacity="0.552"/><stop offset="0.405" stop-color="#000" stop-opacity="0.419"/><stop offset="0.410" stop-color="#000" stop-opacity="0.292"/><stop offset="0.415" stop-color="#000" stop-opacity="0.185"/><stop offset="0.420" stop-color="#000" stop-opacity="0.106"/><stop offset="0.425" stop-color="#000" stop-opacity="0.055"/><stop offset="0.430" stop-color="#000" stop-opacity="0.025"/><stop offset="0.435" stop-color="#000" stop-opacity="0.011"/><stop offset="0.440" stop-color="#000" stop-opacity="0.004"/><stop offset="0.445" stop-color="#000" stop-opacity="0.001"/><stop offset="0.450" stop-color="#000" stop-opacity="0.000"/><stop offset="0.455" stop-color="#000" stop-opacity="0.000"/><stop offset="0.460" stop-color="#000" stop-opacity="0.000"/><stop offset="0.465" stop-color="#000" stop-opacity="0.000"/><stop offset="0.470" stop-color="#000" stop-opacity="0.000"/><stop offset="0.475" stop-color="#000" stop-opacity="0.000"/><stop offset="0.480" stop-color="#000" stop-opacity="0.000"/><stop offset="0.485" stop-color="#000" stop-opacity="0.000"/><stop offset="0.490" stop-color="#000" stop-opacity="0.000"/><stop offset="0.495" stop-color="#000" stop-opacity="0.000"/><stop offset="0.500" stop-color="#000" stop-opacity="0.000"/><stop offset="0.505" stop-color="#000" stop-opacity="0.000"/><stop offset="0.510" stop-color="#000" stop-opacity="0.000"/><stop offset="0.515" stop-color="#000" stop-opacity="0.000"/><stop offset="0.520" stop-color="#000" stop-opacity="0.000"/><stop offset="0.525" stop-color="#000" stop-opacity="0.000"/><stop offset="0.530" stop-color="#000" stop-opacity="0.000"/><stop offset="0.535" stop-color="#000" stop-opacity="0.000"/><stop offset="0.540" stop-color="#000" stop-opacity="0.000"/><stop offset="0.545" stop-color="#000" stop-opacity="0.000"/><stop offset="0.550" stop-color="#000" stop-opacity="0.000"/><stop offset="0.555" stop-color="#000" stop-opacity="0.000"/><stop offset="0.560" stop-color="#000" stop-opacity="0.000"/><stop offset="0.565" stop-color="#000" stop-opacity="0.000"/><stop offset="0.570" stop-color="#000" stop-opacity="0.000"/><stop offset="0.575" stop-color="#000" stop-opacity="0.000"/><stop offset="0.580" stop-color="#000" stop-opacity="0.000"/><stop offset="0.585" stop-color="#000" stop-opacity="0.000"/><stop offset="0.590" stop-color="#000" stop-opacity="0.000"/><stop offset="0.595" stop-color="#000" stop-opacity="0.000"/><stop offset="0.600" stop-color="#000" stop-opacity="0.000"/><stop offset="0.605" stop-color="#000" stop-opacity="0.000"/><stop offset="0.610" stop-color="#000" stop-opacity="0.000"/><stop offset="0.615" stop-color="#000" stop-opacity="0.000"/><stop offset="0.620" stop-color="#000" stop-opacity="0.000"/><stop offset="0.625" stop-color="#000" stop-opacity="0.000"/><stop offset="0.630" stop-color="#000" stop-opacity="0.000"/><stop offset="0.635" stop-color="#000" stop-opacity="0.000"/><stop offset="0.640" stop-color="#000" stop-opacity="0.000"/><stop offset="0.645" stop-color="#000" stop-opacity="0.000"/><stop offset="0.650" stop-color="#000" stop-opacity="0.000"/><stop offset="0.655" stop-color="#000" stop-opacity="0.000"/><stop offset="0.660" stop-color="#000" stop-opacity="0.000"/><stop offset="0.665" stop-color="#000" stop-opacity="0.000"/><stop offset="0.670" stop-color="#000" stop-opacity="0.000"/><stop offset="0.675" stop-color="#000" stop-opacity="0.000"/><stop offset="0.680" stop-color="#000" stop-opacity="0.000"/><stop offset="0.685" stop-color="#000" stop-opacity="0.000"/><stop offset="0.690" stop-color="#000" stop-opacity="0.000"/><stop offset="0.695" stop-color="#000" stop-opacity="0.000"/><stop offset="0.700" stop-color="#000" stop-opacity="0.000"/><stop offset="0.705" stop-color="#000" stop-opacity="0.000"/><stop offset="0.710" stop-color="#000" stop-opacity="0.000"/><stop offset="0.715" stop-color="#000" stop-opacity="0.000"/><stop offset="0.720" stop-color="#000" stop-opacity="0.000"/><stop offset="0.725" stop-color="#000" stop-opacity="0.000"/><stop offset="0.730" stop-color="#000" stop-opacity="0.000"/><stop offset="0.735" stop-color="#000" stop-opacity="0.000"/><stop offset="0.740" stop-color="#000" stop-opacity="0.000"/><stop offset="0.745" stop-color="#000" stop-opacity="0.000"/><stop offset="0.750" stop-color="#000" stop-opacity="0.000"/><stop offset="0.755" stop-color="#000" stop-opacity="0.000"/><stop offset="0.760" stop-color="#000" stop-opacity="0.000"/><stop offset="0.765" stop-color="#000" stop-opacity="0.000"/><stop offset="0.770" stop-color="#000" stop-opacity="0.000"/><stop offset="0.775" stop-color="#000" stop-opacity="0.000"/><stop offset="0.780" stop-color="#000" stop-opacity="0.000"/><stop offset="0.785" stop-color="#000" stop-opacity="0.000"/><stop offset="0.790" stop-color="#000" stop-opacity="0.000"/><stop offset="0.795" stop-color="#000" stop-opacity="0.000"/><stop offset="0.800" stop-color="#000" stop-opacity="0.000"/><stop offset="0.805" stop-color="#000" stop-opacity="0.000"/><stop offset="0.810" stop-color="#000" stop-opacity="0.000"/><stop offset="0.815" stop-color="#000" stop-opacity="0.000"/><stop offset="0.820" stop-color="#000" stop-opacity="0.000"/><stop offset="0.825" stop-color="#000" stop-opacity="0.000"/><stop offset="0.830" stop-color="#000" stop-opacity="0.000"/><stop offset="0.835" stop-color="#000" stop-opacity="0.000"/><stop offset="0.840" stop-color="#000" stop-opacity="0.000"/><stop offset="0.845" stop-color="#000" stop-opacity="0.000"/><stop offset="0.850" stop-color="#000" stop-opacity="0.000"/><stop offset="0.855" stop-color="#000" stop-opacity="0.000"/><stop offset="0.860" stop-color="#000" stop-opacity="0.000"/><stop offset="0.865" stop-color="#000" stop-opacity="0.000"/><stop offset="0.870" stop-color="#000" stop-opacity="0.000"/><stop offset="0.875" stop-color="#000" stop-opacity="0.000"/><stop offset="0.880" stop-color="#000" stop-opacity="0.000"/><stop offset="0.885" stop-color="#000" stop-opacity="0.000"/><stop offset="0.890" stop-color="#000" stop-opacity="0.000"/><stop offset="0.895" stop-color="#000" stop-opacity="0.000"/><stop offset="0.900" stop-color="#000" stop-opacity="0.000"/><stop offset="0.905" stop-color="#000" stop-opacity="0.000"/><stop offset="0.910" stop-color="#000" stop-opacity="0.000"/><stop offset="0.915" stop-color="#000" stop-opacity="0.000"/><stop offset="0.920" stop-color="#000" stop-opacity="0.000"/><stop offset="0.925" stop-color="#000" stop-opacity="0.000"/><stop offset="0.930" stop-color="#000" stop-opacity="0.000"/><stop offset="0.935" stop-color="#000" stop-opacity="0.000"/><stop offset="0.940" stop-color="#000" stop-opacity="0.000"/><stop offset="0.945" stop-color="#000" stop-opacity="0.000"/><stop offset="0.950" stop-color="#000" stop-opacity="0.000"/><stop offset="0.955" stop-color="#000" stop-opacity="0.000"/><stop offset="0.960" stop-color="#000" stop-opacity="0.000"/><stop offset="0.965" stop-color="#000" stop-opacity="0.000"/><stop offset="0.970" stop-color="#000" stop-opacity="0.000"/><stop offset="0.975" stop-color="#000" stop-opacity="0.000"/><stop offset="0.980" stop-color="#000" stop-opacity="0.000"/><stop offset="0.985" stop-color="#000" stop-opacity="0.000"/><stop offset="0.990" stop-color="#000" stop-opacity="0.000"/><stop offset="0.995" stop-color="#000" stop-opacity="0.000"/><stop offset="1.000" stop-color="#000" stop-opacity="0.000"/></linearGradient><linearGradient id="lg1" gradientUnits="userSpaceOnUse" x1="0" y1="71.4" x2="0" y2="171.6"><stop offset="0.000" stop-color="#000" stop-opacity="0.000"/><stop offset="0.005" stop-color="#000" stop-opacity="0.000"/><stop offset="0.010" stop-color="#000" stop-opacity="0.000"/><stop offset="0.015" stop-color="#000" stop-opacity="0.000"/><stop offset="0.020" stop-color="#000" stop-opacity="0.000"/><stop offset="0.025" stop-color="#000" stop-opacity="0.000"/><stop offset="0.030" stop-color="#000" stop-opacity="0.000"/><stop offset="0.035" stop-color="#000" stop-opacity="0.000"/><stop offset="0.040" stop-color="#000" stop-opacity="0.000"/><stop offset="0.045" stop-color="#000" stop-opacity="0.000"/><stop offset="0.050" stop-color="#000" stop-opacity="0.000"/><stop offset="0.055" stop-color="#000" stop-opacity="0.000"/><stop offset="0.060" stop-color="#000" stop-opacity="0.000"/><stop offset="0.065" stop-color="#000" stop-opacity="0.000"/><stop offset="0.070" stop-color="#000" stop-opacity="0.000"/><stop offset="0.075" stop-color="#000" stop-opacity="0.000"/><stop offset="0.080" stop-color="#000" stop-opacity="0.000"/><stop offset="0.085" stop-color="#000" stop-opacity="0.000"/><stop offset="0.090" stop-color="#000" stop-opacity="0.000"/><stop offset="0.095" stop-color="#000" stop-opacity="0.000"/><stop offset="0.100" stop-color="#000" stop-opacity="0.000"/><stop offset="0.105" stop-color="#000" stop-opacity="0.000"/><stop offset="0.110" stop-color="#000" stop-opacity="0.000"/><stop offset="0.115" stop-color="#000" stop-opacity="0.000"/><stop offset="0.120" stop-color="#000" stop-opacity="0.000"/><stop offset="0.125" stop-color="#000" stop-opacity="0.000"/><stop offset="0.130" stop-color="#000" stop-opacity="0.000"/><stop offset="0.135" stop-color="#000" stop-opacity="0.000"/><stop offset="0.140" stop-color="#000" stop-opacity="0.000"/><stop offset="0.145" stop-color="#000" stop-opacity="0.000"/><stop offset="0.150" stop-color="#000" stop-opacity="0.000"/><stop offset="0.155" stop-color="#000" stop-opacity="0.000"/><stop offset="0.160" stop-color="#000" stop-opacity="0.000"/><stop offset="0.165" stop-color="#000" stop-opacity="0.000"/><stop offset="0.170" stop-color="#000" stop-opacity="0.000"/><stop offset="0.175" stop-color="#000" stop-opacity="0.000"/><stop offset="0.180" stop-color="#000" stop-opacity="0.000"/><stop offset="0.185" stop-color="#000" stop-opacity="0.000"/><stop offset="0.190" stop-color="#000" stop-opacity="0.000"/><stop offset="0.195" stop-color="#000" stop-opacity="0.000"/><stop offset="0.200" stop-color="#000" stop-opacity="0.000"/><stop offset="0.205" stop-color="#000" stop-opacity="0.000"/><stop offset="0.210" stop-color="#000" stop-opacity="0.000"/><stop offset="0.215" stop-color="#000" stop-opacity="0.000"/><stop offset="0.220" stop-color="#000" stop-opacity="0.000"/><stop offset="0.225" stop-color="#000" stop-opacity="0.000"/><stop offset="0.230" stop-color="#000" stop-opacity="0.000"/><stop offset="0.235" stop-color="#000" stop-opacity="0.000"/><stop offset="0.240" stop-color="#000" stop-opacity="0.000"/><stop offset="0.245" stop-color="#000" stop-opacity="0.000"/><stop offset="0.250" stop-color="#000" stop-opacity="0.000"/><stop offset="0.255" stop-color="#000" stop-opacity="0.000"/><stop offset="0.260" stop-color="#000" stop-opacity="0.000"/><stop offset="0.265" stop-color="#000" stop-opacity="0.000"/><stop offset="0.270" stop-color="#000" stop-opacity="0.000"/><stop offset="0.275" stop-color="#000" stop-opacity="0.000"/><stop offset="0.280" stop-color="#000" stop-opacity="0.000"/><stop offset="0.285" stop-color="#000" stop-opacity="0.000"/><stop offset="0.290" stop-color="#000" stop-opacity="0.000"/><stop offset="0.295" stop-color="#000" stop-opacity="0.000"/><stop offset="0.300" stop-color="#000" stop-opacity="0.000"/><stop offset="0.305" stop-color="#000" stop-opacity="0.000"/><stop offset="0.310" stop-color="#000" stop-opacity="0.000"/><stop offset="0.315" stop-color="#000" stop-opacity="0.000"/><stop offset="0.320" stop-color="#000" stop-opacity="0.000"/><stop offset="0.325" stop-color="#000" stop-opacity="0.000"/><stop offset="0.330" stop-color="#000" stop-opacity="0.000"/><stop offset="0.335" stop-color="#000" stop-opacity="0.000"/><stop offset="0.340" stop-color="#000" stop-opacity="0.000"/><stop offset="0.345" stop-color="#000" stop-opacity="0.000"/><stop offset="0.350" stop-color="#000" stop-opacity="0.000"/><stop offset="0.355" stop-color="#000" stop-opacity="0.000"/><stop offset="0.360" stop-color="#000" stop-opacity="0.000"/><stop offset="0.365" stop-color="#000" stop-opacity="0.000"/><stop offset="0.370" stop-color="#000" stop-opacity="0.000"/><stop offset="0.375" stop-color="#000" stop-opacity="0.000"/><stop offset="0.380" stop-color="#000" stop-opacity="0.000"/><stop offset="0.385" stop-color="#000" stop-opacity="0.000"/><stop offset="0.390" stop-color="#000" stop-opacity="0.000"/><stop offset="0.395" stop-color="#000" stop-opacity="0.000"/><stop offset="0.400" stop-color="#000" stop-opacity="0.000"/><stop offset="0.405" stop-color="#000" stop-opacity="0.000"/><stop offset="0.410" stop-color="#000" stop-opacity="0.000"/><stop offset="0.415" stop-color="#000" stop-opacity="0.000"/><stop offset="0.420" stop-color="#000" stop-opacity="0.000"/><stop offset="0.425" stop-color="#000" stop-opacity="0.000"/><stop offset="0.430" stop-color="#000" stop-opacity="0.000"/><stop offset="0.435" stop-color="#000" stop-opacity="0.000"/><stop offset="0.440" stop-color="#000" stop-opacity="0.000"/><stop offset="0.445" stop-color="#000" stop-opacity="0.000"/><stop offset="0.450" stop-color="#000" stop-opacity="0.000"/><stop offset="0.455" stop-color="#000" stop-opacity="0.000"/><stop offset="0.460" stop-color="#000" stop-opacity="0.000"/><stop offset="0.465" stop-color="#000" stop-opacity="0.000"/><stop offset="0.470" stop-color="#000" stop-opacity="0.000"/><stop offset="0.475" stop-color="#000" stop-opacity="0.000"/><stop offset="0.480" stop-color="#000" stop-opacity="0.000"/><stop offset="0.485" stop-color="#000" stop-opacity="0.000"/><stop offset="0.490" stop-color="#000" stop-opacity="0.000"/><stop offset="0.495" stop-color="#000" stop-opacity="0.000"/><stop offset="0.500" stop-color="#000" stop-opacity="0.000"/><stop offset="0.505" stop-color="#000" stop-opacity="0.000"/><stop offset="0.510" stop-color="#000" stop-opacity="0.000"/><stop offset="0.515" stop-color="#000" stop-opacity="0.000"/><stop offset="0.520" stop-color="#000" stop-opacity="0.000"/><stop offset="0.525" stop-color="#000" stop-opacity="0.000"/><stop offset="0.530" stop-color="#000" stop-opacity="0.000"/><stop offset="0.535" stop-color="#000" stop-opacity="0.000"/><stop offset="0.540" stop-color="#000" stop-opacity="0.000"/><stop offset="0.545" stop-color="#000" stop-opacity="0.000"/><stop offset="0.550" stop-color="#000" stop-opacity="0.000"/><stop offset="0.555" stop-color="#000" stop-opacity="0.000"/><stop offset="0.560" stop-color="#000" stop-opacity="0.000"/><stop offset="0.565" stop-color="#000" stop-opacity="0.000"/><stop offset="0.570" stop-color="#000" stop-opacity="0.000"/><stop offset="0.575" stop-color="#000" stop-opacity="0.000"/><stop offset="0.580" stop-color="#000" stop-opacity="0.000"/><stop offset="0.585" stop-color="#000" stop-opacity="0.000"/><stop offset="0.590" stop-color="#000" stop-opacity="0.000"/><stop offset="0.595" stop-color="#000" stop-opacity="0.000"/><stop offset="0.600" stop-color="#000" stop-opacity="0.000"/><stop offset="0.605" stop-color="#000" stop-opacity="0.000"/><stop offset="0.610" stop-color="#000" stop-opacity="0.000"/><stop offset="0.615" stop-color="#000" stop-opacity="0.000"/><stop offset="0.620" stop-color="#000" stop-opacity="0.000"/><stop offset="0.625" stop-color="#000" stop-opacity="0.000"/><stop offset="0.630" stop-color="#000" stop-opacity="0.000"/><stop offset="0.635" stop-color="#000" stop-opacity="0.000"/><stop offset="0.640" stop-color="#000" stop-opacity="0.000"/><stop offset="0.645" stop-color="#000" stop-opacity="0.000"/><stop offset="0.650" stop-color="#000" stop-opacity="0.000"/><stop offset="0.655" stop-color="#000" stop-opacity="0.001"/><stop offset="0.660" stop-color="#000" stop-opacity="0.001"/><stop offset="0.665" stop-color="#000" stop-opacity="0.002"/><stop offset="0.670" stop-color="#000" stop-opacity="0.002"/><stop offset="0.675" stop-color="#000" stop-opacity="0.003"/><stop offset="0.680" stop-color="#000" stop-opacity="0.005"/><stop offset="0.685" stop-color="#000" stop-opacity="0.007"/><stop offset="0.690" stop-color="#000" stop-opacity="0.010"/><stop offset="0.695" stop-color="#000" stop-opacity="0.013"/><stop offset="0.700" stop-color="#000" stop-opacity="0.018"/><stop offset="0.705" stop-color="#000" stop-opacity="0.024"/><stop offset="0.710" stop-color="#000" stop-opacity="0.032"/><stop offset="0.715" stop-color="#000" stop-opacity="0.041"/><stop offset="0.720" stop-color="#000" stop-opacity="0.053"/><stop offset="0.725" stop-color="#000" stop-opacity="0.068"/><stop offset="0.730" stop-color="#000" stop-opacity="0.085"/><stop offset="0.735" stop-color="#000" stop-opacity="0.105"/><stop offset="0.740" stop-color="#000" stop-opacity="0.128"/><stop offset="0.745" stop-color="#000" stop-opacity="0.154"/><stop offset="0.750" stop-color="#000" stop-opacity="0.182"/><stop offset="0.755" stop-color="#000" stop-opacity="0.213"/><stop offset="0.760" stop-color="#000" stop-opacity="0.246"/><stop offset="0.765" stop-color="#000" stop-opacity="0.280"/><stop offset="0.770" stop-color="#000" stop-opacity="0.315"/><stop offset="0.775" stop-color="#000" stop-opacity="0.349"/><stop offset="0.780" stop-color="#000" stop-opacity="0.381"/><stop offset="0.785" stop-color="#000" stop-opacity="0.411"/><stop offset="0.790" stop-color="#000" stop-opacity="0.438"/><stop offset="0.795" stop-color="#000" stop-opacity="0.460"/><stop offset="0.800" stop-color="#000" stop-opacity="0.476"/><stop offset="0.805" stop-color="#000" stop-opacity="0.486"/><stop offset="0.810" stop-color="#000" stop-opacity="0.490"/><stop offset="0.815" stop-color="#000" stop-opacity="0.487"/><stop offset="0.820" stop-color="#000" stop-opacity="0.478"/><stop offset="0.825" stop-color="#000" stop-opacity="0.462"/><stop offset="0.830" stop-color="#000" stop-opacity="0.441"/><stop offset="0.835" stop-color="#000" stop-opacity="0.416"/><stop offset="0.840" stop-color="#000" stop-opacity="0.386"/><stop offset="0.845" stop-color="#000" stop-opacity="0.354"/><stop offset="0.850" stop-color="#000" stop-opacity="0.320"/><stop offset="0.855" stop-color="#000" stop-opacity="0.285"/><stop offset="0.860" stop-color="#000" stop-opacity="0.251"/><stop offset="0.865" stop-color="#000" stop-opacity="0.218"/><stop offset="0.870" stop-color="#000" stop-opacity="0.187"/><stop offset="0.875" stop-color="#000" stop-opacity="0.158"/><stop offset="0.880" stop-color="#000" stop-opacity="0.131"/><stop offset="0.885" stop-color="#000" stop-opacity="0.108"/><stop offset="0.890" stop-color="#000" stop-opacity="0.088"/><stop offset="0.895" stop-color="#000" stop-opacity="0.070"/><stop offset="0.900" stop-color="#000" stop-opacity="0.055"/><stop offset="0.905" stop-color="#000" stop-opacity="0.043"/><stop offset="0.910" stop-color="#000" stop-opacity="0.033"/><stop offset="0.915" stop-color="#000" stop-opacity="0.025"/><stop offset="0.920" stop-color="#000" stop-opacity="0.019"/><stop offset="0.925" stop-color="#000" stop-opacity="0.014"/><stop offset="0.930" stop-color="#000" stop-opacity="0.010"/><stop offset="0.935" stop-color="#000" stop-opacity="0.007"/><stop offset="0.940" stop-color="#000" stop-opacity="0.005"/><stop offset="0.945" stop-color="#000" stop-opacity="0.004"/><stop offset="0.950" stop-color="#000" stop-opacity="0.002"/><stop offset="0.955" stop-color="#000" stop-opacity="0.002"/><stop offset="0.960" stop-color="#000" stop-opacity="0.001"/><stop offset="0.965" stop-color="#000" stop-opacity="0.001"/><stop offset="0.970" stop-color="#000" stop-opacity="0.000"/><stop offset="0.975" stop-color="#000" stop-opacity="0.000"/><stop offset="0.980" stop-color="#000" stop-opacity="0.000"/><stop offset="0.985" stop-color="#000" stop-opacity="0.000"/><stop offset="0.990" stop-color="#000" stop-opacity="0.000"/><stop offset="0.995" stop-color="#000" stop-opacity="0.000"/><stop offset="1.000" stop-color="#000" stop-opacity="0.000"/></linearGradient><linearGradient id="ug2" gradientUnits="userSpaceOnUse" x1="0" y1="71.4" x2="0" y2="171.6"><stop offset="0.000" stop-color="#000" stop-opacity="0.008"/><stop offset="0.005" stop-color="#000" stop-opacity="0.011"/><stop offset="0.010" stop-color="#000" stop-opacity="0.014"/><stop offset="0.015" stop-color="#000" stop-opacity="0.018"/><stop offset="0.020" stop-color="#000" stop-opacity="0.023"/><stop offset="0.025" stop-color="#000" stop-opacity="0.029"/><stop offset="0.030" stop-color="#000" stop-opacity="0.036"/><stop offset="0.035" stop-color="#000" stop-opacity="0.043"/><stop offset="0.040" stop-color="#000" stop-opacity="0.051"/><stop offset="0.045" stop-color="#000" stop-opacity="0.059"/><stop offset="0.050" stop-color="#000" stop-opacity="0.068"/><stop offset="0.055" stop-color="#000" stop-opacity="0.077"/><stop offset="0.060" stop-color="#000" stop-opacity="0.085"/><stop offset="0.065" stop-color="#000" stop-opacity="0.095"/><stop offset="0.070" stop-color="#000" stop-opacity="0.105"/><stop offset="0.075" stop-color="#000" stop-opacity="0.116"/><stop offset="0.080" stop-color="#000" stop-opacity="0.129"/><stop offset="0.085" stop-color="#000" stop-opacity="0.145"/><stop offset="0.090" stop-color="#000" stop-opacity="0.165"/><stop offset="0.095" stop-color="#000" stop-opacity="0.190"/><stop offset="0.100" stop-color="#000" stop-opacity="0.221"/><stop offset="0.105" stop-color="#000" stop-opacity="0.258"/><stop offset="0.110" stop-color="#000" stop-opacity="0.302"/><stop offset="0.115" stop-color="#000" stop-opacity="0.351"/><stop offset="0.120" stop-color="#000" stop-opacity="0.405"/><stop offset="0.125" stop-color="#000" stop-opacity="0.463"/><stop offset="0.130" stop-color="#000" stop-opacity="0.523"/><stop offset="0.135" stop-color="#000" stop-opacity="0.584"/><stop offset="0.140" stop-color="#000" stop-opacity="0.642"/><stop offset="0.145" stop-color="#000" stop-opacity="0.696"/><stop offset="0.150" stop-color="#000" stop-opacity="0.746"/><stop offset="0.155" stop-color="#000" stop-opacity="0.789"/><stop offset="0.160" stop-color="#000" stop-opacity="0.827"/><stop offset="0.165" stop-color="#000" stop-opacity="0.858"/><stop offset="0.170" stop-color="#000" stop-opacity="0.884"/><stop offset="0.175" stop-color="#000" stop-opacity="0.904"/><stop offset="0.180" stop-color="#000" stop-opacity="0.920"/><stop offset="0.185" stop-color="#000" stop-opacity="0.932"/><stop offset="0.190" stop-color="#000" stop-opacity="0.941"/><stop offset="0.195" stop-color="#000" stop-opacity="0.949"/><stop offset="0.200" stop-color="#000" stop-opacity="0.955"/><stop offset="0.205" stop-color="#000" stop-opacity="0.960"/><stop offset="0.210" stop-color="#000" stop-opacity="0.964"/><stop offset="0.215" stop-color="#000" stop-opacity="0.967"/><stop offset="0.220" stop-color="#000" stop-opacity="0.971"/><stop offset="0.225" stop-color="#000" stop-opacity="0.974"/><stop offset="0.230" stop-color="#000" stop-opacity="0.976"/><stop offset="0.235" stop-color="#000" stop-opacity="0.978"/><stop offset="0.240" stop-color="#000" stop-opacity="0.980"/><stop offset="0.245" stop-color="#000" stop-opacity="0.982"/><stop offset="0.250" stop-color="#000" stop-opacity="0.983"/><stop offset="0.255" stop-color="#000" stop-opacity="0.984"/><stop offset="0.260" stop-color="#000" stop-opacity="0.985"/><stop offset="0.265" stop-color="#000" stop-opacity="0.985"/><stop offset="0.270" stop-color="#000" stop-opacity="0.985"/><stop offset="0.275" stop-color="#000" stop-opacity="0.984"/><stop offset="0.280" stop-color="#000" stop-opacity="0.983"/><stop offset="0.285" stop-color="#000" stop-opacity="0.982"/><stop offset="0.290" stop-color="#000" stop-opacity="0.980"/><stop offset="0.295" stop-color="#000" stop-opacity="0.978"/><stop offset="0.300" stop-color="#000" stop-opacity="0.976"/><stop offset="0.305" stop-color="#000" stop-opacity="0.973"/><stop offset="0.310" stop-color="#000" stop-opacity="0.970"/><stop offset="0.315" stop-color="#000" stop-opacity="0.968"/><stop offset="0.320" stop-color="#000" stop-opacity="0.965"/><stop offset="0.325" stop-color="#000" stop-opacity="0.961"/><stop offset="0.330" stop-color="#000" stop-opacity="0.958"/><stop offset="0.335" stop-color="#000" stop-opacity="0.954"/><stop offset="0.340" stop-color="#000" stop-opacity="0.948"/><stop offset="0.345" stop-color="#000" stop-opacity="0.937"/><stop offset="0.350" stop-color="#000" stop-opacity="0.918"/><stop offset="0.355" stop-color="#000" stop-opacity="0.883"/><stop offset="0.360" stop-color="#000" stop-opacity="0.826"/><stop offset="0.365" stop-color="#000" stop-opacity="0.742"/><stop offset="0.370" stop-color="#000" stop-opacity="0.630"/><stop offset="0.375" stop-color="#000" stop-opacity="0.501"/><stop offset="0.380" stop-color="#000" stop-opacity="0.368"/><stop offset="0.385" stop-color="#000" stop-opacity="0.247"/><stop offset="0.390" stop-color="#000" stop-opacity="0.151"/><stop offset="0.395" stop-color="#000" stop-opacity="0.083"/><stop offset="0.400" stop-color="#000" stop-opacity="0.041"/><stop offset="0.405" stop-color="#000" stop-opacity="0.018"/><stop offset="0.410" stop-color="#000" stop-opacity="0.007"/><stop offset="0.415" stop-color="#000" stop-opacity="0.003"/><stop offset="0.420" stop-color="#000" stop-opacity="0.001"/><stop offset="0.425" stop-color="#000" stop-opacity="0.000"/><stop offset="0.430" stop-color="#000" stop-opacity="0.000"/><stop offset="0.435" stop-color="#000" stop-opacity="0.000"/><stop offset="0.440" stop-color="#000" stop-opacity="0.000"/><stop offset="0.445" stop-color="#000" stop-opacity="0.000"/><stop offset="0.450" stop-color="#000" stop-opacity="0.000"/><stop offset="0.455" stop-color="#000" stop-opacity="0.000"/><stop offset="0.460" stop-color="#000" stop-opacity="0.000"/><stop offset="0.465" stop-color="#000" stop-opacity="0.000"/><stop offset="0.470" stop-color="#000" stop-opacity="0.000"/><stop offset="0.475" stop-color="#000" stop-opacity="0.000"/><stop offset="0.480" stop-color="#000" stop-opacity="0.000"/><stop offset="0.485" stop-color="#000" stop-opacity="0.000"/><stop offset="0.490" stop-color="#000" stop-opacity="0.000"/><stop offset="0.495" stop-color="#000" stop-opacity="0.000"/><stop offset="0.500" stop-color="#000" stop-opacity="0.000"/><stop offset="0.505" stop-color="#000" stop-opacity="0.000"/><stop offset="0.510" stop-color="#000" stop-opacity="0.000"/><stop offset="0.515" stop-color="#000" stop-opacity="0.000"/><stop offset="0.520" stop-color="#000" stop-opacity="0.000"/><stop offset="0.525" stop-color="#000" stop-opacity="0.000"/><stop offset="0.530" stop-color="#000" stop-opacity="0.000"/><stop offset="0.535" stop-color="#000" stop-opacity="0.000"/><stop offset="0.540" stop-color="#000" stop-opacity="0.000"/><stop offset="0.545" stop-color="#000" stop-opacity="0.000"/><stop offset="0.550" stop-color="#000" stop-opacity="0.000"/><stop offset="0.555" stop-color="#000" stop-opacity="0.000"/><stop offset="0.560" stop-color="#000" stop-opacity="0.000"/><stop offset="0.565" stop-color="#000" stop-opacity="0.000"/><stop offset="0.570" stop-color="#000" stop-opacity="0.000"/><stop offset="0.575" stop-color="#000" stop-opacity="0.000"/><stop offset="0.580" stop-color="#000" stop-opacity="0.000"/><stop offset="0.585" stop-color="#000" stop-opacity="0.000"/><stop offset="0.590" stop-color="#000" stop-opacity="0.000"/><stop offset="0.595" stop-color="#000" stop-opacity="0.000"/><stop offset="0.600" stop-color="#000" stop-opacity="0.000"/><stop offset="0.605" stop-color="#000" stop-opacity="0.000"/><stop offset="0.610" stop-color="#000" stop-opacity="0.000"/><stop offset="0.615" stop-color="#000" stop-opacity="0.000"/><stop offset="0.620" stop-color="#000" stop-opacity="0.000"/><stop offset="0.625" stop-color="#000" stop-opacity="0.000"/><stop offset="0.630" stop-color="#000" stop-opacity="0.000"/><stop offset="0.635" stop-color="#000" stop-opacity="0.000"/><stop offset="0.640" stop-color="#000" stop-opacity="0.000"/><stop offset="0.645" stop-color="#000" stop-opacity="0.000"/><stop offset="0.650" stop-color="#000" stop-opacity="0.000"/><stop offset="0.655" stop-color="#000" stop-opacity="0.000"/><stop offset="0.660" stop-color="#000" stop-opacity="0.000"/><stop offset="0.665" stop-color="#000" stop-opacity="0.000"/><stop offset="0.670" stop-color="#000" stop-opacity="0.000"/><stop offset="0.675" stop-color="#000" stop-opacity="0.000"/><stop offset="0.680" stop-color="#000" stop-opacity="0.000"/><stop offset="0.685" stop-color="#000" stop-opacity="0.000"/><stop offset="0.690" stop-color="#000" stop-opacity="0.000"/><stop offset="0.695" stop-color="#000" stop-opacity="0.000"/><stop offset="0.700" stop-color="#000" stop-opacity="0.000"/><stop offset="0.705" stop-color="#000" stop-opacity="0.000"/><stop offset="0.710" stop-color="#000" stop-opacity="0.000"/><stop offset="0.715" stop-color="#000" stop-opacity="0.000"/><stop offset="0.720" stop-color="#000" stop-opacity="0.000"/><stop offset="0.725" stop-color="#000" stop-opacity="0.000"/><stop offset="0.730" stop-color="#000" stop-opacity="0.000"/><stop offset="0.735" stop-color="#000" stop-opacity="0.000"/><stop offset="0.740" stop-color="#000" stop-opacity="0.000"/><stop offset="0.745" stop-color="#000" stop-opacity="0.000"/><stop offset="0.750" stop-color="#000" stop-opacity="0.000"/><stop offset="0.755" stop-color="#000" stop-opacity="0.000"/><stop offset="0.760" stop-color="#000" stop-opacity="0.000"/><stop offset="0.765" stop-color="#000" stop-opacity="0.000"/><stop offset="0.770" stop-color="#000" stop-opacity="0.000"/><stop offset="0.775" stop-color="#000" stop-opacity="0.000"/><stop offset="0.780" stop-color="#000" stop-opacity="0.000"/><stop offset="0.785" stop-color="#000" stop-opacity="0.000"/><stop offset="0.790" stop-color="#000" stop-opacity="0.000"/><stop offset="0.795" stop-color="#000" stop-opacity="0.000"/><stop offset="0.800" stop-color="#000" stop-opacity="0.000"/><stop offset="0.805" stop-color="#000" stop-opacity="0.000"/><stop offset="0.810" stop-color="#000" stop-opacity="0.000"/><stop offset="0.815" stop-color="#000" stop-opacity="0.000"/><stop offset="0.820" stop-color="#000" stop-opacity="0.000"/><stop offset="0.825" stop-color="#000" stop-opacity="0.000"/><stop offset="0.830" stop-color="#000" stop-opacity="0.000"/><stop offset="0.835" stop-color="#000" stop-opacity="0.000"/><stop offset="0.840" stop-color="#000" stop-opacity="0.000"/><stop offset="0.845" stop-color="#000" stop-opacity="0.000"/><stop offset="0.850" stop-color="#000" stop-opacity="0.000"/><stop offset="0.855" stop-color="#000" stop-opacity="0.000"/><stop offset="0.860" stop-color="#000" stop-opacity="0.000"/><stop offset="0.865" stop-color="#000" stop-opacity="0.000"/><stop offset="0.870" stop-color="#000" stop-opacity="0.000"/><stop offset="0.875" stop-color="#000" stop-opacity="0.000"/><stop offset="0.880" stop-color="#000" stop-opacity="0.000"/><stop offset="0.885" stop-color="#000" stop-opacity="0.000"/><stop offset="0.890" stop-color="#000" stop-opacity="0.000"/><stop offset="0.895" stop-color="#000" stop-opacity="0.000"/><stop offset="0.900" stop-color="#000" stop-opacity="0.000"/><stop offset="0.905" stop-color="#000" stop-opacity="0.000"/><stop offset="0.910" stop-color="#000" stop-opacity="0.000"/><stop offset="0.915" stop-color="#000" stop-opacity="0.000"/><stop offset="0.920" stop-color="#000" stop-opacity="0.000"/><stop offset="0.925" stop-color="#000" stop-opacity="0.000"/><stop offset="0.930" stop-color="#000" stop-opacity="0.000"/><stop offset="0.935" stop-color="#000" stop-opacity="0.000"/><stop offset="0.940" stop-color="#000" stop-opacity="0.000"/><stop offset="0.945" stop-color="#000" stop-opacity="0.000"/><stop offset="0.950" stop-color="#000" stop-opacity="0.000"/><stop offset="0.955" stop-color="#000" stop-opacity="0.000"/><stop offset="0.960" stop-color="#000" stop-opacity="0.000"/><stop offset="0.965" stop-color="#000" stop-opacity="0.000"/><stop offset="0.970" stop-color="#000" stop-opacity="0.000"/><stop offset="0.975" stop-color="#000" stop-opacity="0.000"/><stop offset="0.980" stop-color="#000" stop-opacity="0.000"/><stop offset="0.985" stop-color="#000" stop-opacity="0.000"/><stop offset="0.990" stop-color="#000" stop-opacity="0.000"/><stop offset="0.995" stop-color="#000" stop-opacity="0.000"/><stop offset="1.000" stop-color="#000" stop-opacity="0.000"/></linearGradient><linearGradient id="lg2" gradientUnits="userSpaceOnUse" x1="0" y1="71.4" x2="0" y2="171.6"><stop offset="0.000" stop-color="#000" stop-opacity="0.000"/><stop offset="0.005" stop-color="#000" stop-opacity="0.000"/><stop offset="0.010" stop-color="#000" stop-opacity="0.000"/><stop offset="0.015" stop-color="#000" stop-opacity="0.000"/><stop offset="0.020" stop-color="#000" stop-opacity="0.000"/><stop offset="0.025" stop-color="#000" stop-opacity="0.000"/><stop offset="0.030" stop-color="#000" stop-opacity="0.000"/><stop offset="0.035" stop-color="#000" stop-opacity="0.000"/><stop offset="0.040" stop-color="#000" stop-opacity="0.000"/><stop offset="0.045" stop-color="#000" stop-opacity="0.000"/><stop offset="0.050" stop-color="#000" stop-opacity="0.000"/><stop offset="0.055" stop-color="#000" stop-opacity="0.000"/><stop offset="0.060" stop-color="#000" stop-opacity="0.000"/><stop offset="0.065" stop-color="#000" stop-opacity="0.000"/><stop offset="0.070" stop-color="#000" stop-opacity="0.000"/><stop offset="0.075" stop-color="#000" stop-opacity="0.000"/><stop offset="0.080" stop-color="#000" stop-opacity="0.000"/><stop offset="0.085" stop-color="#000" stop-opacity="0.000"/><stop offset="0.090" stop-color="#000" stop-opacity="0.000"/><stop offset="0.095" stop-color="#000" stop-opacity="0.000"/><stop offset="0.100" stop-color="#000" stop-opacity="0.000"/><stop offset="0.105" stop-color="#000" stop-opacity="0.000"/><stop offset="0.110" stop-color="#000" stop-opacity="0.000"/><stop offset="0.115" stop-color="#000" stop-opacity="0.000"/><stop offset="0.120" stop-color="#000" stop-opacity="0.000"/><stop offset="0.125" stop-color="#000" stop-opacity="0.000"/><stop offset="0.130" stop-color="#000" stop-opacity="0.000"/><stop offset="0.135" stop-color="#000" stop-opacity="0.000"/><stop offset="0.140" stop-color="#000" stop-opacity="0.000"/><stop offset="0.145" stop-color="#000" stop-opacity="0.000"/><stop offset="0.150" stop-color="#000" stop-opacity="0.000"/><stop offset="0.155" stop-color="#000" stop-opacity="0.000"/><stop offset="0.160" stop-color="#000" stop-opacity="0.000"/><stop offset="0.165" stop-color="#000" stop-opacity="0.000"/><stop offset="0.170" stop-color="#000" stop-opacity="0.000"/><stop offset="0.175" stop-color="#000" stop-opacity="0.000"/><stop offset="0.180" stop-color="#000" stop-opacity="0.000"/><stop offset="0.185" stop-color="#000" stop-opacity="0.000"/><stop offset="0.190" stop-color="#000" stop-opacity="0.000"/><stop offset="0.195" stop-color="#000" stop-opacity="0.000"/><stop offset="0.200" stop-color="#000" stop-opacity="0.000"/><stop offset="0.205" stop-color="#000" stop-opacity="0.000"/><stop offset="0.210" stop-color="#000" stop-opacity="0.000"/><stop offset="0.215" stop-color="#000" stop-opacity="0.000"/><stop offset="0.220" stop-color="#000" stop-opacity="0.000"/><stop offset="0.225" stop-color="#000" stop-opacity="0.000"/><stop offset="0.230" stop-color="#000" stop-opacity="0.000"/><stop offset="0.235" stop-color="#000" stop-opacity="0.000"/><stop offset="0.240" stop-color="#000" stop-opacity="0.000"/><stop offset="0.245" stop-color="#000" stop-opacity="0.000"/><stop offset="0.250" stop-color="#000" stop-opacity="0.000"/><stop offset="0.255" stop-color="#000" stop-opacity="0.000"/><stop offset="0.260" stop-color="#000" stop-opacity="0.000"/><stop offset="0.265" stop-color="#000" stop-opacity="0.000"/><stop offset="0.270" stop-color="#000" stop-opacity="0.000"/><stop offset="0.275" stop-color="#000" stop-opacity="0.000"/><stop offset="0.280" stop-color="#000" stop-opacity="0.000"/><stop offset="0.285" stop-color="#000" stop-opacity="0.000"/><stop offset="0.290" stop-color="#000" stop-opacity="0.000"/><stop offset="0.295" stop-color="#000" stop-opacity="0.000"/><stop offset="0.300" stop-color="#000" stop-opacity="0.000"/><stop offset="0.305" stop-color="#000" stop-opacity="0.000"/><stop offset="0.310" stop-color="#000" stop-opacity="0.000"/><stop offset="0.315" stop-color="#000" stop-opacity="0.000"/><stop offset="0.320" stop-color="#000" stop-opacity="0.000"/><stop offset="0.325" stop-color="#000" stop-opacity="0.000"/><stop offset="0.330" stop-color="#000" stop-opacity="0.000"/><stop offset="0.335" stop-color="#000" stop-opacity="0.000"/><stop offset="0.340" stop-color="#000" stop-opacity="0.000"/><stop offset="0.345" stop-color="#000" stop-opacity="0.000"/><stop offset="0.350" stop-color="#000" stop-opacity="0.000"/><stop offset="0.355" stop-color="#000" stop-opacity="0.000"/><stop offset="0.360" stop-color="#000" stop-opacity="0.000"/><stop offset="0.365" stop-color="#000" stop-opacity="0.000"/><stop offset="0.370" stop-color="#000" stop-opacity="0.000"/><stop offset="0.375" stop-color="#000" stop-opacity="0.000"/><stop offset="0.380" stop-color="#000" stop-opacity="0.000"/><stop offset="0.385" stop-color="#000" stop-opacity="0.000"/><stop offset="0.390" stop-color="#000" stop-opacity="0.000"/><stop offset="0.395" stop-color="#000" stop-opacity="0.000"/><stop offset="0.400" stop-color="#000" stop-opacity="0.000"/><stop offset="0.405" stop-color="#000" stop-opacity="0.000"/><stop offset="0.410" stop-color="#000" stop-opacity="0.000"/><stop offset="0.415" stop-color="#000" stop-opacity="0.000"/><stop offset="0.420" stop-color="#000" stop-opacity="0.000"/><stop offset="0.425" stop-color="#000" stop-opacity="0.000"/><stop offset="0.430" stop-color="#000" stop-opacity="0.000"/><stop offset="0.435" stop-color="#000" stop-opacity="0.000"/><stop offset="0.440" stop-color="#000" stop-opacity="0.000"/><stop offset="0.445" stop-color="#000" stop-opacity="0.000"/><stop offset="0.450" stop-color="#000" stop-opacity="0.000"/><stop offset="0.455" stop-color="#000" stop-opacity="0.000"/><stop offset="0.460" stop-color="#000" stop-opacity="0.000"/><stop offset="0.465" stop-color="#000" stop-opacity="0.000"/><stop offset="0.470" stop-color="#000" stop-opacity="0.000"/><stop offset="0.475" stop-color="#000" stop-opacity="0.000"/><stop offset="0.480" stop-color="#000" stop-opacity="0.000"/><stop offset="0.485" stop-color="#000" stop-opacity="0.000"/><stop offset="0.490" stop-color="#000" stop-opacity="0.000"/><stop offset="0.495" stop-color="#000" stop-opacity="0.000"/><stop offset="0.500" stop-color="#000" stop-opacity="0.000"/><stop offset="0.505" stop-color="#000" stop-opacity="0.000"/><stop offset="0.510" stop-color="#000" stop-opacity="0.000"/><stop offset="0.515" stop-color="#000" stop-opacity="0.000"/><stop offset="0.520" stop-color="#000" stop-opacity="0.000"/><stop offset="0.525" stop-color="#000" stop-opacity="0.000"/><stop offset="0.530" stop-color="#000" stop-opacity="0.000"/><stop offset="0.535" stop-color="#000" stop-opacity="0.000"/><stop offset="0.540" stop-color="#000" stop-opacity="0.000"/><stop offset="0.545" stop-color="#000" stop-opacity="0.000"/><stop offset="0.550" stop-color="#000" stop-opacity="0.000"/><stop offset="0.555" stop-color="#000" stop-opacity="0.000"/><stop offset="0.560" stop-color="#000" stop-opacity="0.000"/><stop offset="0.565" stop-color="#000" stop-opacity="0.000"/><stop offset="0.570" stop-color="#000" stop-opacity="0.000"/><stop offset="0.575" stop-color="#000" stop-opacity="0.000"/><stop offset="0.580" stop-color="#000" stop-opacity="0.000"/><stop offset="0.585" stop-color="#000" stop-opacity="0.000"/><stop offset="0.590" stop-color="#000" stop-opacity="0.000"/><stop offset="0.595" stop-color="#000" stop-opacity="0.000"/><stop offset="0.600" stop-color="#000" stop-opacity="0.001"/><stop offset="0.605" stop-color="#000" stop-opacity="0.001"/><stop offset="0.610" stop-color="#000" stop-opacity="0.002"/><stop offset="0.615" stop-color="#000" stop-opacity="0.002"/><stop offset="0.620" stop-color="#000" stop-opacity="0.003"/><stop offset="0.625" stop-color="#000" stop-opacity="0.005"/><stop offset="0.630" stop-color="#000" stop-opacity="0.007"/><stop offset="0.635" stop-color="#000" stop-opacity="0.009"/><stop offset="0.640" stop-color="#000" stop-opacity="0.013"/><stop offset="0.645" stop-color="#000" stop-opacity="0.017"/><stop offset="0.650" stop-color="#000" stop-opacity="0.023"/><stop offset="0.655" stop-color="#000" stop-opacity="0.031"/><stop offset="0.660" stop-color="#000" stop-opacity="0.041"/><stop offset="0.665" stop-color="#000" stop-opacity="0.053"/><stop offset="0.670" stop-color="#000" stop-opacity="0.067"/><stop offset="0.675" stop-color="#000" stop-opacity="0.084"/><stop offset="0.680" stop-color="#000" stop-opacity="0.104"/><stop offset="0.685" stop-color="#000" stop-opacity="0.127"/><stop offset="0.690" stop-color="#000" stop-opacity="0.154"/><stop offset="0.695" stop-color="#000" stop-opacity="0.183"/><stop offset="0.700" stop-color="#000" stop-opacity="0.214"/><stop offset="0.705" stop-color="#000" stop-opacity="0.248"/><stop offset="0.710" stop-color="#000" stop-opacity="0.284"/><stop offset="0.715" stop-color="#000" stop-opacity="0.320"/><stop offset="0.720" stop-color="#000" stop-opacity="0.355"/><stop offset="0.725" stop-color="#000" stop-opacity="0.390"/><stop offset="0.730" stop-color="#000" stop-opacity="0.422"/><stop offset="0.735" stop-color="#000" stop-opacity="0.450"/><stop offset="0.740" stop-color="#000" stop-opacity="0.474"/><stop offset="0.745" stop-color="#000" stop-opacity="0.492"/><stop offset="0.750" stop-color="#000" stop-opacity="0.504"/><stop offset="0.755" stop-color="#000" stop-opacity="0.510"/><stop offset="0.760" stop-color="#000" stop-opacity="0.508"/><stop offset="0.765" stop-color="#000" stop-opacity="0.500"/><stop offset="0.770" stop-color="#000" stop-opacity="0.485"/><stop offset="0.775" stop-color="#000" stop-opacity="0.465"/><stop offset="0.780" stop-color="#000" stop-opacity="0.439"/><stop offset="0.785" stop-color="#000" stop-opacity="0.409"/><stop offset="0.790" stop-color="#000" stop-opacity="0.376"/><stop offset="0.795" stop-color="#000" stop-opacity="0.341"/><stop offset="0.800" stop-color="#000" stop-opacity="0.305"/><stop offset="0.805" stop-color="#000" stop-opacity="0.269"/><stop offset="0.810" stop-color="#000" stop-opacity="0.234"/><stop offset="0.815" stop-color="#000" stop-opacity="0.201"/><stop offset="0.820" stop-color="#000" stop-opacity="0.171"/><stop offset="0.825" stop-color="#000" stop-opacity="0.143"/><stop offset="0.830" stop-color="#000" stop-opacity="0.118"/><stop offset="0.835" stop-color="#000" stop-opacity="0.096"/><stop offset="0.840" stop-color="#000" stop-opacity="0.077"/><stop offset="0.845" stop-color="#000" stop-opacity="0.061"/><stop offset="0.850" stop-color="#000" stop-opacity="0.047"/><stop offset="0.855" stop-color="#000" stop-opacity="0.037"/><stop offset="0.860" stop-color="#000" stop-opacity="0.028"/><stop offset="0.865" stop-color="#000" stop-opacity="0.021"/><stop offset="0.870" stop-color="#000" stop-opacity="0.015"/><stop offset="0.875" stop-color="#000" stop-opacity="0.011"/><stop offset="0.880" stop-color="#000" stop-opacity="0.008"/><stop offset="0.885" stop-color="#000" stop-opacity="0.006"/><stop offset="0.890" stop-color="#000" stop-opacity="0.004"/><stop offset="0.895" stop-color="#000" stop-opacity="0.003"/><stop offset="0.900" stop-color="#000" stop-opacity="0.002"/><stop offset="0.905" stop-color="#000" stop-opacity="0.001"/><stop offset="0.910" stop-color="#000" stop-opacity="0.001"/><stop offset="0.915" stop-color="#000" stop-opacity="0.001"/><stop offset="0.920" stop-color="#000" stop-opacity="0.000"/><stop offset="0.925" stop-color="#000" stop-opacity="0.000"/><stop offset="0.930" stop-color="#000" stop-opacity="0.000"/><stop offset="0.935" stop-color="#000" stop-opacity="0.000"/><stop offset="0.940" stop-color="#000" stop-opacity="0.000"/><stop offset="0.945" stop-color="#000" stop-opacity="0.000"/><stop offset="0.950" stop-color="#000" stop-opacity="0.000"/><stop offset="0.955" stop-color="#000" stop-opacity="0.000"/><stop offset="0.960" stop-color="#000" stop-opacity="0.000"/><stop offset="0.965" stop-color="#000" stop-opacity="0.000"/><stop offset="0.970" stop-color="#000" stop-opacity="0.000"/><stop offset="0.975" stop-color="#000" stop-opacity="0.000"/><stop offset="0.980" stop-color="#000" stop-opacity="0.000"/><stop offset="0.985" stop-color="#000" stop-opacity="0.000"/><stop offset="0.990" stop-color="#000" stop-opacity="0.000"/><stop offset="0.995" stop-color="#000" stop-opacity="0.000"/><stop offset="1.000" stop-color="#000" stop-opacity="0.000"/></linearGradient><linearGradient id="ug3" gradientUnits="userSpaceOnUse" x1="0" y1="71.4" x2="0" y2="171.6"><stop offset="0.000" stop-color="#000" stop-opacity="0.016"/><stop offset="0.005" stop-color="#000" stop-opacity="0.020"/><stop offset="0.010" stop-color="#000" stop-opacity="0.026"/><stop offset="0.015" stop-color="#000" stop-opacity="0.032"/><stop offset="0.020" stop-color="#000" stop-opacity="0.039"/><stop offset="0.025" stop-color="#000" stop-opacity="0.047"/><stop offset="0.030" stop-color="#000" stop-opacity="0.055"/><stop offset="0.035" stop-color="#000" stop-opacity="0.063"/><stop offset="0.040" stop-color="#000" stop-opacity="0.072"/><stop offset="0.045" stop-color="#000" stop-opacity="0.081"/><stop offset="0.050" stop-color="#000" stop-opacity="0.090"/><stop offset="0.055" stop-color="#000" stop-opacity="0.100"/><stop offset="0.060" stop-color="#000" stop-opacity="0.110"/><stop offset="0.065" stop-color="#000" stop-opacity="0.122"/><stop offset="0.070" stop-color="#000" stop-opacity="0.137"/><stop offset="0.075" stop-color="#000" stop-opacity="0.154"/><stop offset="0.080" stop-color="#000" stop-opacity="0.176"/><stop offset="0.085" stop-color="#000" stop-opacity="0.204"/><stop offset="0.090" stop-color="#000" stop-opacity="0.237"/><stop offset="0.095" stop-color="#000" stop-opacity="0.277"/><stop offset="0.100" stop-color="#000" stop-opacity="0.324"/><stop offset="0.105" stop-color="#000" stop-opacity="0.376"/><stop offset="0.110" stop-color="#000" stop-opacity="0.432"/><stop offset="0.115" stop-color="#000" stop-opacity="0.492"/><stop offset="0.120" stop-color="#000" stop-opacity="0.553"/><stop offset="0.125" stop-color="#000" stop-opacity="0.612"/><stop offset="0.130" stop-color="#000" stop-opacity="0.670"/><stop offset="0.135" stop-color="#000" stop-opacity="0.723"/><stop offset="0.140" stop-color="#000" stop-opacity="0.771"/><stop offset="0.145" stop-color="#000" stop-opacity="0.812"/><stop offset="0.150" stop-color="#000" stop-opacity="0.847"/><stop offset="0.155" stop-color="#000" stop-opacity="0.876"/><stop offset="0.160" stop-color="#000" stop-opacity="0.900"/><stop offset="0.165" stop-color="#000" stop-opacity="0.918"/><stop offset="0.170" stop-color="#000" stop-opacity="0.933"/><stop offset="0.175" stop-color="#000" stop-opacity="0.944"/><stop offset="0.180" stop-color="#000" stop-opacity="0.952"/><stop offset="0.185" stop-color="#000" stop-opacity="0.959"/><stop offset="0.190" stop-color="#000" stop-opacity="0.965"/><stop offset="0.195" stop-color="#000" stop-opacity="0.969"/><stop offset="0.200" stop-color="#000" stop-opacity="0.973"/><stop offset="0.205" stop-color="#000" stop-opacity="0.977"/><stop offset="0.210" stop-color="#000" stop-opacity="0.980"/><stop offset="0.215" stop-color="#000" stop-opacity="0.983"/><stop offset="0.220" stop-color="#000" stop-opacity="0.986"/><stop offset="0.225" stop-color="#000" stop-opacity="0.988"/><stop offset="0.230" stop-color="#000" stop-opacity="0.990"/><stop offset="0.235" stop-color="#000" stop-opacity="0.992"/><stop offset="0.240" stop-color="#000" stop-opacity="0.993"/><stop offset="0.245" stop-color="#000" stop-opacity="0.994"/><stop offset="0.250" stop-color="#000" stop-opacity="0.995"/><stop offset="0.255" stop-color="#000" stop-opacity="0.995"/><stop offset="0.260" stop-color="#000" stop-opacity="0.995"/><stop offset="0.265" stop-color="#000" stop-opacity="0.994"/><stop offset="0.270" stop-color="#000" stop-opacity="0.993"/><stop offset="0.275" stop-color="#000" stop-opacity="0.992"/><stop offset="0.280" stop-color="#000" stop-opacity="0.990"/><stop offset="0.285" stop-color="#000" stop-opacity="0.988"/><stop offset="0.290" stop-color="#000" stop-opacity="0.986"/><stop offset="0.295" stop-color="#000" stop-opacity="0.983"/><stop offset="0.300" stop-color="#000" stop-opacity="0.981"/><stop offset="0.305" stop-color="#000" stop-opacity="0.978"/><stop offset="0.310" stop-color="#000" stop-opacity="0.975"/><stop offset="0.315" stop-color="#000" stop-opacity="0.972"/><stop offset="0.320" stop-color="#000" stop-opacity="0.968"/><stop offset="0.325" stop-color="#000" stop-opacity="0.965"/><stop offset="0.330" stop-color="#000" stop-opacity="0.960"/><stop offset="0.335" stop-color="#000" stop-opacity="0.953"/><stop offset="0.340" stop-color="#000" stop-opacity="0.939"/><stop offset="0.345" stop-color="#000" stop-opacity="0.915"/><stop offset="0.350" stop-color="#000" stop-opacity="0.871"/><stop offset="0.355" stop-color="#000" stop-opacity="0.803"/><stop offset="0.360" stop-color="#000" stop-opacity="0.707"/><stop offset="0.365" stop-color="#000" stop-opacity="0.585"/><stop offset="0.370" stop-color="#000" stop-opacity="0.451"/><stop offset="0.375" stop-color="#000" stop-opacity="0.321"/><stop offset="0.380" stop-color="#000" stop-opacity="0.208"/><stop offset="0.385" stop-color="#000" stop-opacity="0.122"/><stop offset="0.390" stop-color="#000" stop-opacity="0.064"/><stop offset="0.395" stop-color="#000" stop-opacity="0.031"/><stop offset="0.400" stop-color="#000" stop-opacity="0.013"/><stop offset="0.405" stop-color="#000" stop-opacity="0.005"/><stop offset="0.410" stop-color="#000" stop-opacity="0.002"/><stop offset="0.415" stop-color="#000" stop-opacity="0.000"/><stop offset="0.420" stop-color="#000" stop-opacity="0.000"/><stop offset="0.425" stop-color="#000" stop-opacity="0.000"/><stop offset="0.430" stop-color="#000" stop-opacity="0.000"/><stop offset="0.435" stop-color="#000" stop-opacity="0.000"/><stop offset="0.440" stop-color="#000" stop-opacity="0.000"/><stop offset="0.445" stop-color="#000" stop-opacity="0.000"/><stop offset="0.450" stop-color="#000" stop-opacity="0.000"/><stop offset="0.455" stop-color="#000" stop-opacity="0.000"/><stop offset="0.460" stop-color="#000" stop-opacity="0.000"/><stop offset="0.465" stop-color="#000" stop-opacity="0.000"/><stop offset="0.470" stop-color="#000" stop-opacity="0.000"/><stop offset="0.475" stop-color="#000" stop-opacity="0.000"/><stop offset="0.480" stop-color="#000" stop-opacity="0.000"/><stop offset="0.485" stop-color="#000" stop-opacity="0.000"/><stop offset="0.490" stop-color="#000" stop-opacity="0.000"/><stop offset="0.495" stop-color="#000" stop-opacity="0.000"/><stop offset="0.500" stop-color="#000" stop-opacity="0.000"/><stop offset="0.505" stop-color="#000" stop-opacity="0.000"/><stop offset="0.510" stop-color="#000" stop-opacity="0.000"/><stop offset="0.515" stop-color="#000" stop-opacity="0.000"/><stop offset="0.520" stop-color="#000" stop-opacity="0.000"/><stop offset="0.525" stop-color="#000" stop-opacity="0.000"/><stop offset="0.530" stop-color="#000" stop-opacity="0.000"/><stop offset="0.535" stop-color="#000" stop-opacity="0.000"/><stop offset="0.540" stop-color="#000" stop-opacity="0.000"/><stop offset="0.545" stop-color="#000" stop-opacity="0.000"/><stop offset="0.550" stop-color="#000" stop-opacity="0.000"/><stop offset="0.555" stop-color="#000" stop-opacity="0.000"/><stop offset="0.560" stop-color="#000" stop-opacity="0.000"/><stop offset="0.565" stop-color="#000" stop-opacity="0.000"/><stop offset="0.570" stop-color="#000" stop-opacity="0.000"/><stop offset="0.575" stop-color="#000" stop-opacity="0.000"/><stop offset="0.580" stop-color="#000" stop-opacity="0.000"/><stop offset="0.585" stop-color="#000" stop-opacity="0.000"/><stop offset="0.590" stop-color="#000" stop-opacity="0.000"/><stop offset="0.595" stop-color="#000" stop-opacity="0.000"/><stop offset="0.600" stop-color="#000" stop-opacity="0.000"/><stop offset="0.605" stop-color="#000" stop-opacity="0.000"/><stop offset="0.610" stop-color="#000" stop-opacity="0.000"/><stop offset="0.615" stop-color="#000" stop-opacity="0.000"/><stop offset="0.620" stop-color="#000" stop-opacity="0.000"/><stop offset="0.625" stop-color="#000" stop-opacity="0.000"/><stop offset="0.630" stop-color="#000" stop-opacity="0.000"/><stop offset="0.635" stop-color="#000" stop-opacity="0.000"/><stop offset="0.640" stop-color="#000" stop-opacity="0.000"/><stop offset="0.645" stop-color="#000" stop-opacity="0.000"/><stop offset="0.650" stop-color="#000" stop-opacity="0.000"/><stop offset="0.655" stop-color="#000" stop-opacity="0.000"/><stop offset="0.660" stop-color="#000" stop-opacity="0.000"/><stop offset="0.665" stop-color="#000" stop-opacity="0.000"/><stop offset="0.670" stop-color="#000" stop-opacity="0.000"/><stop offset="0.675" stop-color="#000" stop-opacity="0.000"/><stop offset="0.680" stop-color="#000" stop-opacity="0.000"/><stop offset="0.685" stop-color="#000" stop-opacity="0.000"/><stop offset="0.690" stop-color="#000" stop-opacity="0.000"/><stop offset="0.695" stop-color="#000" stop-opacity="0.000"/><stop offset="0.700" stop-color="#000" stop-opacity="0.000"/><stop offset="0.705" stop-color="#000" stop-opacity="0.000"/><stop offset="0.710" stop-color="#000" stop-opacity="0.000"/><stop offset="0.715" stop-color="#000" stop-opacity="0.000"/><stop offset="0.720" stop-color="#000" stop-opacity="0.000"/><stop offset="0.725" stop-color="#000" stop-opacity="0.000"/><stop offset="0.730" stop-color="#000" stop-opacity="0.000"/><stop offset="0.735" stop-color="#000" stop-opacity="0.000"/><stop offset="0.740" stop-color="#000" stop-opacity="0.000"/><stop offset="0.745" stop-color="#000" stop-opacity="0.000"/><stop offset="0.750" stop-color="#000" stop-opacity="0.000"/><stop offset="0.755" stop-color="#000" stop-opacity="0.000"/><stop offset="0.760" stop-color="#000" stop-opacity="0.000"/><stop offset="0.765" stop-color="#000" stop-opacity="0.000"/><stop offset="0.770" stop-color="#000" stop-opacity="0.000"/><stop offset="0.775" stop-color="#000" stop-opacity="0.000"/><stop offset="0.780" stop-color="#000" stop-opacity="0.000"/><stop offset="0.785" stop-color="#000" stop-opacity="0.000"/><stop offset="0.790" stop-color="#000" stop-opacity="0.000"/><stop offset="0.795" stop-color="#000" stop-opacity="0.000"/><stop offset="0.800" stop-color="#000" stop-opacity="0.000"/><stop offset="0.805" stop-color="#000" stop-opacity="0.000"/><stop offset="0.810" stop-color="#000" stop-opacity="0.000"/><stop offset="0.815" stop-color="#000" stop-opacity="0.000"/><stop offset="0.820" stop-color="#000" stop-opacity="0.000"/><stop offset="0.825" stop-color="#000" stop-opacity="0.000"/><stop offset="0.830" stop-color="#000" stop-opacity="0.000"/><stop offset="0.835" stop-color="#000" stop-opacity="0.000"/><stop offset="0.840" stop-color="#000" stop-opacity="0.000"/><stop offset="0.845" stop-color="#000" stop-opacity="0.000"/><stop offset="0.850" stop-color="#000" stop-opacity="0.000"/><stop offset="0.855" stop-color="#000" stop-opacity="0.000"/><stop offset="0.860" stop-color="#000" stop-opacity="0.000"/><stop offset="0.865" stop-color="#000" stop-opacity="0.000"/><stop offset="0.870" stop-color="#000" stop-opacity="0.000"/><stop offset="0.875" stop-color="#000" stop-opacity="0.000"/><stop offset="0.880" stop-color="#000" stop-opacity="0.000"/><stop offset="0.885" stop-color="#000" stop-opacity="0.000"/><stop offset="0.890" stop-color="#000" stop-opacity="0.000"/><stop offset="0.895" stop-color="#000" stop-opacity="0.000"/><stop offset="0.900" stop-color="#000" stop-opacity="0.000"/><stop offset="0.905" stop-color="#000" stop-opacity="0.000"/><stop offset="0.910" stop-color="#000" stop-opacity="0.000"/><stop offset="0.915" stop-color="#000" stop-opacity="0.000"/><stop offset="0.920" stop-color="#000" stop-opacity="0.000"/><stop offset="0.925" stop-color="#000" stop-opacity="0.000"/><stop offset="0.930" stop-color="#000" stop-opacity="0.000"/><stop offset="0.935" stop-color="#000" stop-opacity="0.000"/><stop offset="0.940" stop-color="#000" stop-opacity="0.000"/><stop offset="0.945" stop-color="#000" stop-opacity="0.000"/><stop offset="0.950" stop-color="#000" stop-opacity="0.000"/><stop offset="0.955" stop-color="#000" stop-opacity="0.000"/><stop offset="0.960" stop-color="#000" stop-opacity="0.000"/><stop offset="0.965" stop-color="#000" stop-opacity="0.000"/><stop offset="0.970" stop-color="#000" stop-opacity="0.000"/><stop offset="0.975" stop-color="#000" stop-opacity="0.000"/><stop offset="0.980" stop-color="#000" stop-opacity="0.000"/><stop offset="0.985" stop-color="#000" stop-opacity="0.000"/><stop offset="0.990" stop-color="#000" stop-opacity="0.000"/><stop offset="0.995" stop-color="#000" stop-opacity="0.000"/><stop offset="1.000" stop-color="#000" stop-opacity="0.000"/></linearGradient><linearGradient id="lg3" gradientUnits="userSpaceOnUse" x1="0" y1="71.4" x2="0" y2="171.6"><stop offset="0.000" stop-color="#000" stop-opacity="0.000"/><stop offset="0.005" stop-color="#000" stop-opacity="0.000"/><stop offset="0.010" stop-color="#000" stop-opacity="0.000"/><stop offset="0.015" stop-color="#000" stop-opacity="0.000"/><stop offset="0.020" stop-color="#000" stop-opacity="0.000"/><stop offset="0.025" stop-color="#000" stop-opacity="0.000"/><stop offset="0.030" stop-color="#000" stop-opacity="0.000"/><stop offset="0.035" stop-color="#000" stop-opacity="0.000"/><stop offset="0.040" stop-color="#000" stop-opacity="0.000"/><stop offset="0.045" stop-color="#000" stop-opacity="0.000"/><stop offset="0.050" stop-color="#000" stop-opacity="0.000"/><stop offset="0.055" stop-color="#000" stop-opacity="0.000"/><stop offset="0.060" stop-color="#000" stop-opacity="0.000"/><stop offset="0.065" stop-color="#000" stop-opacity="0.000"/><stop offset="0.070" stop-color="#000" stop-opacity="0.000"/><stop offset="0.075" stop-color="#000" stop-opacity="0.000"/><stop offset="0.080" stop-color="#000" stop-opacity="0.000"/><stop offset="0.085" stop-color="#000" stop-opacity="0.000"/><stop offset="0.090" stop-color="#000" stop-opacity="0.000"/><stop offset="0.095" stop-color="#000" stop-opacity="0.000"/><stop offset="0.100" stop-color="#000" stop-opacity="0.000"/><stop offset="0.105" stop-color="#000" stop-opacity="0.000"/><stop offset="0.110" stop-color="#000" stop-opacity="0.000"/><stop offset="0.115" stop-color="#000" stop-opacity="0.000"/><stop offset="0.120" stop-color="#000" stop-opacity="0.000"/><stop offset="0.125" stop-color="#000" stop-opacity="0.000"/><stop offset="0.130" stop-color="#000" stop-opacity="0.000"/><stop offset="0.135" stop-color="#000" stop-opacity="0.000"/><stop offset="0.140" stop-color="#000" stop-opacity="0.000"/><stop offset="0.145" stop-color="#000" stop-opacity="0.000"/><stop offset="0.150" stop-color="#000" stop-opacity="0.000"/><stop offset="0.155" stop-color="#000" stop-opacity="0.000"/><stop offset="0.160" stop-color="#000" stop-opacity="0.000"/><stop offset="0.165" stop-color="#000" stop-opacity="0.000"/><stop offset="0.170" stop-color="#000" stop-opacity="0.000"/><stop offset="0.175" stop-color="#000" stop-opacity="0.000"/><stop offset="0.180" stop-color="#000" stop-opacity="0.000"/><stop offset="0.185" stop-color="#000" stop-opacity="0.000"/><stop offset="0.190" stop-color="#000" stop-opacity="0.000"/><stop offset="0.195" stop-color="#000" stop-opacity="0.000"/><stop offset="0.200" stop-color="#000" stop-opacity="0.000"/><stop offset="0.205" stop-color="#000" stop-opacity="0.000"/><stop offset="0.210" stop-color="#000" stop-opacity="0.000"/><stop offset="0.215" stop-color="#000" stop-opacity="0.000"/><stop offset="0.220" stop-color="#000" stop-opacity="0.000"/><stop offset="0.225" stop-color="#000" stop-opacity="0.000"/><stop offset="0.230" stop-color="#000" stop-opacity="0.000"/><stop offset="0.235" stop-color="#000" stop-opacity="0.000"/><stop offset="0.240" stop-color="#000" stop-opacity="0.000"/><stop offset="0.245" stop-color="#000" stop-opacity="0.000"/><stop offset="0.250" stop-color="#000" stop-opacity="0.000"/><stop offset="0.255" stop-color="#000" stop-opacity="0.000"/><stop offset="0.260" stop-color="#000" stop-opacity="0.000"/><stop offset="0.265" stop-color="#000" stop-opacity="0.000"/><stop offset="0.270" stop-color="#000" stop-opacity="0.000"/><stop offset="0.275" stop-color="#000" stop-opacity="0.000"/><stop offset="0.280" stop-color="#000" stop-opacity="0.000"/><stop offset="0.285" stop-color="#000" stop-opacity="0.000"/><stop offset="0.290" stop-color="#000" stop-opacity="0.000"/><stop offset="0.295" stop-color="#000" stop-opacity="0.000"/><stop offset="0.300" stop-color="#000" stop-opacity="0.000"/><stop offset="0.305" stop-color="#000" stop-opacity="0.000"/><stop offset="0.310" stop-color="#000" stop-opacity="0.000"/><stop offset="0.315" stop-color="#000" stop-opacity="0.000"/><stop offset="0.320" stop-color="#000" stop-opacity="0.000"/><stop offset="0.325" stop-color="#000" stop-opacity="0.000"/><stop offset="0.330" stop-color="#000" stop-opacity="0.000"/><stop offset="0.335" stop-color="#000" stop-opacity="0.000"/><stop offset="0.340" stop-color="#000" stop-opacity="0.000"/><stop offset="0.345" stop-color="#000" stop-opacity="0.000"/><stop offset="0.350" stop-color="#000" stop-opacity="0.000"/><stop offset="0.355" stop-color="#000" stop-opacity="0.000"/><stop offset="0.360" stop-color="#000" stop-opacity="0.000"/><stop offset="0.365" stop-color="#000" stop-opacity="0.000"/><stop offset="0.370" stop-color="#000" stop-opacity="0.000"/><stop offset="0.375" stop-color="#000" stop-opacity="0.000"/><stop offset="0.380" stop-color="#000" stop-opacity="0.000"/><stop offset="0.385" stop-color="#000" stop-opacity="0.000"/><stop offset="0.390" stop-color="#000" stop-opacity="0.000"/><stop offset="0.395" stop-color="#000" stop-opacity="0.000"/><stop offset="0.400" stop-color="#000" stop-opacity="0.000"/><stop offset="0.405" stop-color="#000" stop-opacity="0.000"/><stop offset="0.410" stop-color="#000" stop-opacity="0.000"/><stop offset="0.415" stop-color="#000" stop-opacity="0.000"/><stop offset="0.420" stop-color="#000" stop-opacity="0.000"/><stop offset="0.425" stop-color="#000" stop-opacity="0.000"/><stop offset="0.430" stop-color="#000" stop-opacity="0.000"/><stop offset="0.435" stop-color="#000" stop-opacity="0.000"/><stop offset="0.440" stop-color="#000" stop-opacity="0.000"/><stop offset="0.445" stop-color="#000" stop-opacity="0.000"/><stop offset="0.450" stop-color="#000" stop-opacity="0.000"/><stop offset="0.455" stop-color="#000" stop-opacity="0.000"/><stop offset="0.460" stop-color="#000" stop-opacity="0.000"/><stop offset="0.465" stop-color="#000" stop-opacity="0.000"/><stop offset="0.470" stop-color="#000" stop-opacity="0.000"/><stop offset="0.475" stop-color="#000" stop-opacity="0.000"/><stop offset="0.480" stop-color="#000" stop-opacity="0.000"/><stop offset="0.485" stop-color="#000" stop-opacity="0.000"/><stop offset="0.490" stop-color="#000" stop-opacity="0.000"/><stop offset="0.495" stop-color="#000" stop-opacity="0.000"/><stop offset="0.500" stop-color="#000" stop-opacity="0.000"/><stop offset="0.505" stop-color="#000" stop-opacity="0.000"/><stop offset="0.510" stop-color="#000" stop-opacity="0.000"/><stop offset="0.515" stop-color="#000" stop-opacity="0.000"/><stop offset="0.520" stop-color="#000" stop-opacity="0.000"/><stop offset="0.525" stop-color="#000" stop-opacity="0.000"/><stop offset="0.530" stop-color="#000" stop-opacity="0.000"/><stop offset="0.535" stop-color="#000" stop-opacity="0.000"/><stop offset="0.540" stop-color="#000" stop-opacity="0.000"/><stop offset="0.545" stop-color="#000" stop-opacity="0.000"/><stop offset="0.550" stop-color="#000" stop-opacity="0.000"/><stop offset="0.555" stop-color="#000" stop-opacity="0.000"/><stop offset="0.560" stop-color="#000" stop-opacity="0.000"/><stop offset="0.565" stop-color="#000" stop-opacity="0.000"/><stop offset="0.570" stop-color="#000" stop-opacity="0.000"/><stop offset="0.575" stop-color="#000" stop-opacity="0.000"/><stop offset="0.580" stop-color="#000" stop-opacity="0.000"/><stop offset="0.585" stop-color="#000" stop-opacity="0.000"/><stop offset="0.590" stop-color="#000" stop-opacity="0.000"/><stop offset="0.595" stop-color="#000" stop-opacity="0.000"/><stop offset="0.600" stop-color="#000" stop-opacity="0.000"/><stop offset="0.605" stop-color="#000" stop-opacity="0.000"/><stop offset="0.610" stop-color="#000" stop-opacity="0.001"/><stop offset="0.615" stop-color="#000" stop-opacity="0.001"/><stop offset="0.620" stop-color="#000" stop-opacity="0.001"/><stop offset="0.625" stop-color="#000" stop-opacity="0.002"/><stop offset="0.630" stop-color="#000" stop-opacity="0.002"/><stop offset="0.635" stop-color="#000" stop-opacity="0.003"/><stop offset="0.640" stop-color="#000" stop-opacity="0.005"/><stop offset="0.645" stop-color="#000" stop-opacity="0.007"/><stop offset="0.650" stop-color="#000" stop-opacity="0.009"/><stop offset="0.655" stop-color="#000" stop-opacity="0.012"/><stop offset="0.660" stop-color="#000" stop-opacity="0.016"/><stop offset="0.665" stop-color="#000" stop-opacity="0.021"/><stop offset="0.670" stop-color="#000" stop-opacity="0.027"/><stop offset="0.675" stop-color="#000" stop-opacity="0.034"/><stop offset="0.680" stop-color="#000" stop-opacity="0.043"/><stop offset="0.685" stop-color="#000" stop-opacity="0.053"/><stop offset="0.690" stop-color="#000" stop-opacity="0.065"/><stop offset="0.695" stop-color="#000" stop-opacity="0.078"/><stop offset="0.700" stop-color="#000" stop-opacity="0.093"/><stop offset="0.705" stop-color="#000" stop-opacity="0.109"/><stop offset="0.710" stop-color="#000" stop-opacity="0.127"/><stop offset="0.715" stop-color="#000" stop-opacity="0.145"/><stop offset="0.720" stop-color="#000" stop-opacity="0.163"/><stop offset="0.725" stop-color="#000" stop-opacity="0.181"/><stop offset="0.730" stop-color="#000" stop-opacity="0.199"/><stop offset="0.735" stop-color="#000" stop-opacity="0.215"/><stop offset="0.740" stop-color="#000" stop-opacity="0.229"/><stop offset="0.745" stop-color="#000" stop-opacity="0.242"/><stop offset="0.750" stop-color="#000" stop-opacity="0.251"/><stop offset="0.755" stop-color="#000" stop-opacity="0.257"/><stop offset="0.760" stop-color="#000" stop-opacity="0.260"/><stop offset="0.765" stop-color="#000" stop-opacity="0.259"/><stop offset="0.770" stop-color="#000" stop-opacity="0.255"/><stop offset="0.775" stop-color="#000" stop-opacity="0.247"/><stop offset="0.780" stop-color="#000" stop-opacity="0.237"/><stop offset="0.785" stop-color="#000" stop-opacity="0.224"/><stop offset="0.790" stop-color="#000" stop-opacity="0.208"/><stop offset="0.795" stop-color="#000" stop-opacity="0.192"/><stop offset="0.800" stop-color="#000" stop-opacity="0.174"/><stop offset="0.805" stop-color="#000" stop-opacity="0.155"/><stop offset="0.810" stop-color="#000" stop-opacity="0.137"/><stop offset="0.815" stop-color="#000" stop-opacity="0.119"/><stop offset="0.820" stop-color="#000" stop-opacity="0.103"/><stop offset="0.825" stop-color="#000" stop-opacity="0.087"/><stop offset="0.830" stop-color="#000" stop-opacity="0.073"/><stop offset="0.835" stop-color="#000" stop-opacity="0.060"/><stop offset="0.840" stop-color="#000" stop-opacity="0.049"/><stop offset="0.845" stop-color="#000" stop-opacity="0.039"/><stop offset="0.850" stop-color="#000" stop-opacity="0.031"/><stop offset="0.855" stop-color="#000" stop-opacity="0.024"/><stop offset="0.860" stop-color="#000" stop-opacity="0.019"/><stop offset="0.865" stop-color="#000" stop-opacity="0.014"/><stop offset="0.870" stop-color="#000" stop-opacity="0.011"/><stop offset="0.875" stop-color="#000" stop-opacity="0.008"/><stop offset="0.880" stop-color="#000" stop-opacity="0.006"/><stop offset="0.885" stop-color="#000" stop-opacity="0.004"/><stop offset="0.890" stop-color="#000" stop-opacity="0.003"/><stop offset="0.895" stop-color="#000" stop-opacity="0.002"/><stop offset="0.900" stop-color="#000" stop-opacity="0.001"/><stop offset="0.905" stop-color="#000" stop-opacity="0.001"/><stop offset="0.910" stop-color="#000" stop-opacity="0.001"/><stop offset="0.915" stop-color="#000" stop-opacity="0.000"/><stop offset="0.920" stop-color="#000" stop-opacity="0.000"/><stop offset="0.925" stop-color="#000" stop-opacity="0.000"/><stop offset="0.930" stop-color="#000" stop-opacity="0.000"/><stop offset="0.935" stop-color="#000" stop-opacity="0.000"/><stop offset="0.940" stop-color="#000" stop-opacity="0.000"/><stop offset="0.945" stop-color="#000" stop-opacity="0.000"/><stop offset="0.950" stop-color="#000" stop-opacity="0.000"/><stop offset="0.955" stop-color="#000" stop-opacity="0.000"/><stop offset="0.960" stop-color="#000" stop-opacity="0.000"/><stop offset="0.965" stop-color="#000" stop-opacity="0.000"/><stop offset="0.970" stop-color="#000" stop-opacity="0.000"/><stop offset="0.975" stop-color="#000" stop-opacity="0.000"/><stop offset="0.980" stop-color="#000" stop-opacity="0.000"/><stop offset="0.985" stop-color="#000" stop-opacity="0.000"/><stop offset="0.990" stop-color="#000" stop-opacity="0.000"/><stop offset="0.995" stop-color="#000" stop-opacity="0.000"/><stop offset="1.000" stop-color="#000" stop-opacity="0.000"/></linearGradient><linearGradient id="ug4" gradientUnits="userSpaceOnUse" x1="0" y1="71.4" x2="0" y2="171.6"><stop offset="0.000" stop-color="#000" stop-opacity="0.010"/><stop offset="0.005" stop-color="#000" stop-opacity="0.013"/><stop offset="0.010" stop-color="#000" stop-opacity="0.018"/><stop offset="0.015" stop-color="#000" stop-opacity="0.022"/><stop offset="0.020" stop-color="#000" stop-opacity="0.028"/><stop offset="0.025" stop-color="#000" stop-opacity="0.035"/><stop offset="0.030" stop-color="#000" stop-opacity="0.042"/><stop offset="0.035" stop-color="#000" stop-opacity="0.050"/><stop offset="0.040" stop-color="#000" stop-opacity="0.058"/><stop offset="0.045" stop-color="#000" stop-opacity="0.067"/><stop offset="0.050" stop-color="#000" stop-opacity="0.075"/><stop offset="0.055" stop-color="#000" stop-opacity="0.084"/><stop offset="0.060" stop-color="#000" stop-opacity="0.094"/><stop offset="0.065" stop-color="#000" stop-opacity="0.104"/><stop offset="0.070" stop-color="#000" stop-opacity="0.115"/><stop offset="0.075" stop-color="#000" stop-opacity="0.128"/><stop offset="0.080" stop-color="#000" stop-opacity="0.143"/><stop offset="0.085" stop-color="#000" stop-opacity="0.163"/><stop offset="0.090" stop-color="#000" stop-opacity="0.187"/><stop offset="0.095" stop-color="#000" stop-opacity="0.217"/><stop offset="0.100" stop-color="#000" stop-opacity="0.253"/><stop offset="0.105" stop-color="#000" stop-opacity="0.295"/><stop offset="0.110" stop-color="#000" stop-opacity="0.344"/><stop offset="0.115" stop-color="#000" stop-opacity="0.398"/><stop offset="0.120" stop-color="#000" stop-opacity="0.456"/><stop offset="0.125" stop-color="#000" stop-opacity="0.516"/><stop offset="0.130" stop-color="#000" stop-opacity="0.577"/><stop offset="0.135" stop-color="#000" stop-opacity="0.636"/><stop offset="0.140" stop-color="#000" stop-opacity="0.692"/><stop offset="0.145" stop-color="#000" stop-opacity="0.743"/><stop offset="0.150" stop-color="#000" stop-opacity="0.788"/><stop offset="0.155" stop-color="#000" stop-opacity="0.827"/><stop offset="0.160" stop-color="#000" stop-opacity="0.859"/><stop offset="0.165" stop-color="#000" stop-opacity="0.886"/><stop offset="0.170" stop-color="#000" stop-opacity="0.907"/><stop offset="0.175" stop-color="#000" stop-opacity="0.924"/><stop offset="0.180" stop-color="#000" stop-opacity="0.937"/><stop offset="0.185" stop-color="#000" stop-opacity="0.947"/><stop offset="0.190" stop-color="#000" stop-opacity="0.955"/><stop offset="0.195" stop-color="#000" stop-opacity="0.961"/><stop offset="0.200" stop-color="#000" stop-opacity="0.966"/><stop offset="0.205" stop-color="#000" stop-opacity="0.970"/><stop offset="0.210" stop-color="#000" stop-opacity="0.974"/><stop offset="0.215" stop-color="#000" stop-opacity="0.978"/><stop offset="0.220" stop-color="#000" stop-opacity="0.981"/><stop offset="0.225" stop-color="#000" stop-opacity="0.984"/><stop offset="0.230" stop-color="#000" stop-opacity="0.986"/><stop offset="0.235" stop-color="#000" stop-opacity="0.988"/><stop offset="0.240" stop-color="#000" stop-opacity="0.990"/><stop offset="0.245" stop-color="#000" stop-opacity="0.992"/><stop offset="0.250" stop-color="#000" stop-opacity="0.993"/><stop offset="0.255" stop-color="#000" stop-opacity="0.994"/><stop offset="0.260" stop-color="#000" stop-opacity="0.995"/><stop offset="0.265" stop-color="#000" stop-opacity="0.995"/><stop offset="0.270" stop-color="#000" stop-opacity="0.995"/><stop offset="0.275" stop-color="#000" stop-opacity="0.994"/><stop offset="0.280" stop-color="#000" stop-opacity="0.993"/><stop offset="0.285" stop-color="#000" stop-opacity="0.992"/><stop offset="0.290" stop-color="#000" stop-opacity="0.990"/><stop offset="0.295" stop-color="#000" stop-opacity="0.988"/><stop offset="0.300" stop-color="#000" stop-opacity="0.985"/><stop offset="0.305" stop-color="#000" stop-opacity="0.983"/><stop offset="0.310" stop-color="#000" stop-opacity="0.980"/><stop offset="0.315" stop-color="#000" stop-opacity="0.977"/><stop offset="0.320" stop-color="#000" stop-opacity="0.974"/><stop offset="0.325" stop-color="#000" stop-opacity="0.971"/><stop offset="0.330" stop-color="#000" stop-opacity="0.968"/><stop offset="0.335" stop-color="#000" stop-opacity="0.964"/><stop offset="0.340" stop-color="#000" stop-opacity="0.960"/><stop offset="0.345" stop-color="#000" stop-opacity="0.952"/><stop offset="0.350" stop-color="#000" stop-opacity="0.939"/><stop offset="0.355" stop-color="#000" stop-opacity="0.914"/><stop offset="0.360" stop-color="#000" stop-opacity="0.871"/><stop offset="0.365" stop-color="#000" stop-opacity="0.802"/><stop offset="0.370" stop-color="#000" stop-opacity="0.706"/><stop offset="0.375" stop-color="#000" stop-opacity="0.585"/><stop offset="0.380" stop-color="#000" stop-opacity="0.451"/><stop offset="0.385" stop-color="#000" stop-opacity="0.320"/><stop offset="0.390" stop-color="#000" stop-opacity="0.207"/><stop offset="0.395" stop-color="#000" stop-opacity="0.122"/><stop offset="0.400" stop-color="#000" stop-opacity="0.064"/><stop offset="0.405" stop-color="#000" stop-opacity="0.031"/><stop offset="0.410" stop-color="#000" stop-opacity="0.013"/><stop offset="0.415" stop-color="#000" stop-opacity="0.005"/><stop offset="0.420" stop-color="#000" stop-opacity="0.002"/><stop offset="0.425" stop-color="#000" stop-opacity="0.000"/><stop offset="0.430" stop-color="#000" stop-opacity="0.000"/><stop offset="0.435" stop-color="#000" stop-opacity="0.000"/><stop offset="0.440" stop-color="#000" stop-opacity="0.000"/><stop offset="0.445" stop-color="#000" stop-opacity="0.000"/><stop offset="0.450" stop-color="#000" stop-opacity="0.000"/><stop offset="0.455" stop-color="#000" stop-opacity="0.000"/><stop offset="0.460" stop-color="#000" stop-opacity="0.000"/><stop offset="0.465" stop-color="#000" stop-opacity="0.000"/><stop offset="0.470" stop-color="#000" stop-opacity="0.000"/><stop offset="0.475" stop-color="#000" stop-opacity="0.000"/><stop offset="0.480" stop-color="#000" stop-opacity="0.000"/><stop offset="0.485" stop-color="#000" stop-opacity="0.000"/><stop offset="0.490" stop-color="#000" stop-opacity="0.000"/><stop offset="0.495" stop-color="#000" stop-opacity="0.000"/><stop offset="0.500" stop-color="#000" stop-opacity="0.000"/><stop offset="0.505" stop-color="#000" stop-opacity="0.000"/><stop offset="0.510" stop-color="#000" stop-opacity="0.000"/><stop offset="0.515" stop-color="#000" stop-opacity="0.000"/><stop offset="0.520" stop-color="#000" stop-opacity="0.000"/><stop offset="0.525" stop-color="#000" stop-opacity="0.000"/><stop offset="0.530" stop-color="#000" stop-opacity="0.000"/><stop offset="0.535" stop-color="#000" stop-opacity="0.000"/><stop offset="0.540" stop-color="#000" stop-opacity="0.000"/><stop offset="0.545" stop-color="#000" stop-opacity="0.000"/><stop offset="0.550" stop-color="#000" stop-opacity="0.000"/><stop offset="0.555" stop-color="#000" stop-opacity="0.000"/><stop offset="0.560" stop-color="#000" stop-opacity="0.000"/><stop offset="0.565" stop-color="#000" stop-opacity="0.000"/><stop offset="0.570" stop-color="#000" stop-opacity="0.000"/><stop offset="0.575" stop-color="#000" stop-opacity="0.000"/><stop offset="0.580" stop-color="#000" stop-opacity="0.000"/><stop offset="0.585" stop-color="#000" stop-opacity="0.000"/><stop offset="0.590" stop-color="#000" stop-opacity="0.000"/><stop offset="0.595" stop-color="#000" stop-opacity="0.000"/><stop offset="0.600" stop-color="#000" stop-opacity="0.000"/><stop offset="0.605" stop-color="#000" stop-opacity="0.000"/><stop offset="0.610" stop-color="#000" stop-opacity="0.000"/><stop offset="0.615" stop-color="#000" stop-opacity="0.000"/><stop offset="0.620" stop-color="#000" stop-opacity="0.000"/><stop offset="0.625" stop-color="#000" stop-opacity="0.000"/><stop offset="0.630" stop-color="#000" stop-opacity="0.000"/><stop offset="0.635" stop-color="#000" stop-opacity="0.000"/><stop offset="0.640" stop-color="#000" stop-opacity="0.000"/><stop offset="0.645" stop-color="#000" stop-opacity="0.000"/><stop offset="0.650" stop-color="#000" stop-opacity="0.000"/><stop offset="0.655" stop-color="#000" stop-opacity="0.000"/><stop offset="0.660" stop-color="#000" stop-opacity="0.000"/><stop offset="0.665" stop-color="#000" stop-opacity="0.000"/><stop offset="0.670" stop-color="#000" stop-opacity="0.000"/><stop offset="0.675" stop-color="#000" stop-opacity="0.000"/><stop offset="0.680" stop-color="#000" stop-opacity="0.000"/><stop offset="0.685" stop-color="#000" stop-opacity="0.000"/><stop offset="0.690" stop-color="#000" stop-opacity="0.000"/><stop offset="0.695" stop-color="#000" stop-opacity="0.000"/><stop offset="0.700" stop-color="#000" stop-opacity="0.000"/><stop offset="0.705" stop-color="#000" stop-opacity="0.000"/><stop offset="0.710" stop-color="#000" stop-opacity="0.000"/><stop offset="0.715" stop-color="#000" stop-opacity="0.000"/><stop offset="0.720" stop-color="#000" stop-opacity="0.000"/><stop offset="0.725" stop-color="#000" stop-opacity="0.000"/><stop offset="0.730" stop-color="#000" stop-opacity="0.000"/><stop offset="0.735" stop-color="#000" stop-opacity="0.000"/><stop offset="0.740" stop-color="#000" stop-opacity="0.000"/><stop offset="0.745" stop-color="#000" stop-opacity="0.000"/><stop offset="0.750" stop-color="#000" stop-opacity="0.000"/><stop offset="0.755" stop-color="#000" stop-opacity="0.000"/><stop offset="0.760" stop-color="#000" stop-opacity="0.000"/><stop offset="0.765" stop-color="#000" stop-opacity="0.000"/><stop offset="0.770" stop-color="#000" stop-opacity="0.000"/><stop offset="0.775" stop-color="#000" stop-opacity="0.000"/><stop offset="0.780" stop-color="#000" stop-opacity="0.000"/><stop offset="0.785" stop-color="#000" stop-opacity="0.000"/><stop offset="0.790" stop-color="#000" stop-opacity="0.000"/><stop offset="0.795" stop-color="#000" stop-opacity="0.000"/><stop offset="0.800" stop-color="#000" stop-opacity="0.000"/><stop offset="0.805" stop-color="#000" stop-opacity="0.000"/><stop offset="0.810" stop-color="#000" stop-opacity="0.000"/><stop offset="0.815" stop-color="#000" stop-opacity="0.000"/><stop offset="0.820" stop-color="#000" stop-opacity="0.000"/><stop offset="0.825" stop-color="#000" stop-opacity="0.000"/><stop offset="0.830" stop-color="#000" stop-opacity="0.000"/><stop offset="0.835" stop-color="#000" stop-opacity="0.000"/><stop offset="0.840" stop-color="#000" stop-opacity="0.000"/><stop offset="0.845" stop-color="#000" stop-opacity="0.000"/><stop offset="0.850" stop-color="#000" stop-opacity="0.000"/><stop offset="0.855" stop-color="#000" stop-opacity="0.000"/><stop offset="0.860" stop-color="#000" stop-opacity="0.000"/><stop offset="0.865" stop-color="#000" stop-opacity="0.000"/><stop offset="0.870" stop-color="#000" stop-opacity="0.000"/><stop offset="0.875" stop-color="#000" stop-opacity="0.000"/><stop offset="0.880" stop-color="#000" stop-opacity="0.000"/><stop offset="0.885" stop-color="#000" stop-opacity="0.000"/><stop offset="0.890" stop-color="#000" stop-opacity="0.000"/><stop offset="0.895" stop-color="#000" stop-opacity="0.000"/><stop offset="0.900" stop-color="#000" stop-opacity="0.000"/><stop offset="0.905" stop-color="#000" stop-opacity="0.000"/><stop offset="0.910" stop-color="#000" stop-opacity="0.000"/><stop offset="0.915" stop-color="#000" stop-opacity="0.000"/><stop offset="0.920" stop-color="#000" stop-opacity="0.000"/><stop offset="0.925" stop-color="#000" stop-opacity="0.000"/><stop offset="0.930" stop-color="#000" stop-opacity="0.000"/><stop offset="0.935" stop-color="#000" stop-opacity="0.000"/><stop offset="0.940" stop-color="#000" stop-opacity="0.000"/><stop offset="0.945" stop-color="#000" stop-opacity="0.000"/><stop offset="0.950" stop-color="#000" stop-opacity="0.000"/><stop offset="0.955" stop-color="#000" stop-opacity="0.000"/><stop offset="0.960" stop-color="#000" stop-opacity="0.000"/><stop offset="0.965" stop-color="#000" stop-opacity="0.000"/><stop offset="0.970" stop-color="#000" stop-opacity="0.000"/><stop offset="0.975" stop-color="#000" stop-opacity="0.000"/><stop offset="0.980" stop-color="#000" stop-opacity="0.000"/><stop offset="0.985" stop-color="#000" stop-opacity="0.000"/><stop offset="0.990" stop-color="#000" stop-opacity="0.000"/><stop offset="0.995" stop-color="#000" stop-opacity="0.000"/><stop offset="1.000" stop-color="#000" stop-opacity="0.000"/></linearGradient><linearGradient id="lg4" gradientUnits="userSpaceOnUse" x1="0" y1="71.4" x2="0" y2="171.6"><stop offset="0.000" stop-color="#000" stop-opacity="0.000"/><stop offset="0.005" stop-color="#000" stop-opacity="0.000"/><stop offset="0.010" stop-color="#000" stop-opacity="0.000"/><stop offset="0.015" stop-color="#000" stop-opacity="0.000"/><stop offset="0.020" stop-color="#000" stop-opacity="0.000"/><stop offset="0.025" stop-color="#000" stop-opacity="0.000"/><stop offset="0.030" stop-color="#000" stop-opacity="0.000"/><stop offset="0.035" stop-color="#000" stop-opacity="0.000"/><stop offset="0.040" stop-color="#000" stop-opacity="0.000"/><stop offset="0.045" stop-color="#000" stop-opacity="0.000"/><stop offset="0.050" stop-color="#000" stop-opacity="0.000"/><stop offset="0.055" stop-color="#000" stop-opacity="0.000"/><stop offset="0.060" stop-color="#000" stop-opacity="0.000"/><stop offset="0.065" stop-color="#000" stop-opacity="0.000"/><stop offset="0.070" stop-color="#000" stop-opacity="0.000"/><stop offset="0.075" stop-color="#000" stop-opacity="0.000"/><stop offset="0.080" stop-color="#000" stop-opacity="0.000"/><stop offset="0.085" stop-color="#000" stop-opacity="0.000"/><stop offset="0.090" stop-color="#000" stop-opacity="0.000"/><stop offset="0.095" stop-color="#000" stop-opacity="0.000"/><stop offset="0.100" stop-color="#000" stop-opacity="0.000"/><stop offset="0.105" stop-color="#000" stop-opacity="0.000"/><stop offset="0.110" stop-color="#000" stop-opacity="0.000"/><stop offset="0.115" stop-color="#000" stop-opacity="0.000"/><stop offset="0.120" stop-color="#000" stop-opacity="0.000"/><stop offset="0.125" stop-color="#000" stop-opacity="0.000"/><stop offset="0.130" stop-color="#000" stop-opacity="0.000"/><stop offset="0.135" stop-color="#000" stop-opacity="0.000"/><stop offset="0.140" stop-color="#000" stop-opacity="0.000"/><stop offset="0.145" stop-color="#000" stop-opacity="0.000"/><stop offset="0.150" stop-color="#000" stop-opacity="0.000"/><stop offset="0.155" stop-color="#000" stop-opacity="0.000"/><stop offset="0.160" stop-color="#000" stop-opacity="0.000"/><stop offset="0.165" stop-color="#000" stop-opacity="0.000"/><stop offset="0.170" stop-color="#000" stop-opacity="0.000"/><stop offset="0.175" stop-color="#000" stop-opacity="0.000"/><stop offset="0.180" stop-color="#000" stop-opacity="0.000"/><stop offset="0.185" stop-color="#000" stop-opacity="0.000"/><stop offset="0.190" stop-color="#000" stop-opacity="0.000"/><stop offset="0.195" stop-color="#000" stop-opacity="0.000"/><stop offset="0.200" stop-color="#000" stop-opacity="0.000"/><stop offset="0.205" stop-color="#000" stop-opacity="0.000"/><stop offset="0.210" stop-color="#000" stop-opacity="0.000"/><stop offset="0.215" stop-color="#000" stop-opacity="0.000"/><stop offset="0.220" stop-color="#000" stop-opacity="0.000"/><stop offset="0.225" stop-color="#000" stop-opacity="0.000"/><stop offset="0.230" stop-color="#000" stop-opacity="0.000"/><stop offset="0.235" stop-color="#000" stop-opacity="0.000"/><stop offset="0.240" stop-color="#000" stop-opacity="0.000"/><stop offset="0.245" stop-color="#000" stop-opacity="0.000"/><stop offset="0.250" stop-color="#000" stop-opacity="0.000"/><stop offset="0.255" stop-color="#000" stop-opacity="0.000"/><stop offset="0.260" stop-color="#000" stop-opacity="0.000"/><stop offset="0.265" stop-color="#000" stop-opacity="0.000"/><stop offset="0.270" stop-color="#000" stop-opacity="0.000"/><stop offset="0.275" stop-color="#000" stop-opacity="0.000"/><stop offset="0.280" stop-color="#000" stop-opacity="0.000"/><stop offset="0.285" stop-color="#000" stop-opacity="0.000"/><stop offset="0.290" stop-color="#000" stop-opacity="0.000"/><stop offset="0.295" stop-color="#000" stop-opacity="0.000"/><stop offset="0.300" stop-color="#000" stop-opacity="0.000"/><stop offset="0.305" stop-color="#000" stop-opacity="0.000"/><stop offset="0.310" stop-color="#000" stop-opacity="0.000"/><stop offset="0.315" stop-color="#000" stop-opacity="0.000"/><stop offset="0.320" stop-color="#000" stop-opacity="0.000"/><stop offset="0.325" stop-color="#000" stop-opacity="0.000"/><stop offset="0.330" stop-color="#000" stop-opacity="0.000"/><stop offset="0.335" stop-color="#000" stop-opacity="0.000"/><stop offset="0.340" stop-color="#000" stop-opacity="0.000"/><stop offset="0.345" stop-color="#000" stop-opacity="0.000"/><stop offset="0.350" stop-color="#000" stop-opacity="0.000"/><stop offset="0.355" stop-color="#000" stop-opacity="0.000"/><stop offset="0.360" stop-color="#000" stop-opacity="0.000"/><stop offset="0.365" stop-color="#000" stop-opacity="0.000"/><stop offset="0.370" stop-color="#000" stop-opacity="0.000"/><stop offset="0.375" stop-color="#000" stop-opacity="0.000"/><stop offset="0.380" stop-color="#000" stop-opacity="0.000"/><stop offset="0.385" stop-color="#000" stop-opacity="0.000"/><stop offset="0.390" stop-color="#000" stop-opacity="0.000"/><stop offset="0.395" stop-color="#000" stop-opacity="0.000"/><stop offset="0.400" stop-color="#000" stop-opacity="0.000"/><stop offset="0.405" stop-color="#000" stop-opacity="0.000"/><stop offset="0.410" stop-color="#000" stop-opacity="0.000"/><stop offset="0.415" stop-color="#000" stop-opacity="0.000"/><stop offset="0.420" stop-color="#000" stop-opacity="0.000"/><stop offset="0.425" stop-color="#000" stop-opacity="0.000"/><stop offset="0.430" stop-color="#000" stop-opacity="0.000"/><stop offset="0.435" stop-color="#000" stop-opacity="0.000"/><stop offset="0.440" stop-color="#000" stop-opacity="0.000"/><stop offset="0.445" stop-color="#000" stop-opacity="0.000"/><stop offset="0.450" stop-color="#000" stop-opacity="0.000"/><stop offset="0.455" stop-color="#000" stop-opacity="0.000"/><stop offset="0.460" stop-color="#000" stop-opacity="0.000"/><stop offset="0.465" stop-color="#000" stop-opacity="0.000"/><stop offset="0.470" stop-color="#000" stop-opacity="0.000"/><stop offset="0.475" stop-color="#000" stop-opacity="0.000"/><stop offset="0.480" stop-color="#000" stop-opacity="0.000"/><stop offset="0.485" stop-color="#000" stop-opacity="0.000"/><stop offset="0.490" stop-color="#000" stop-opacity="0.000"/><stop offset="0.495" stop-color="#000" stop-opacity="0.000"/><stop offset="0.500" stop-color="#000" stop-opacity="0.000"/><stop offset="0.505" stop-color="#000" stop-opacity="0.000"/><stop offset="0.510" stop-color="#000" stop-opacity="0.000"/><stop offset="0.515" stop-color="#000" stop-opacity="0.000"/><stop offset="0.520" stop-color="#000" stop-opacity="0.000"/><stop offset="0.525" stop-color="#000" stop-opacity="0.000"/><stop offset="0.530" stop-color="#000" stop-opacity="0.000"/><stop offset="0.535" stop-color="#000" stop-opacity="0.000"/><stop offset="0.540" stop-color="#000" stop-opacity="0.000"/><stop offset="0.545" stop-color="#000" stop-opacity="0.000"/><stop offset="0.550" stop-color="#000" stop-opacity="0.000"/><stop offset="0.555" stop-color="#000" stop-opacity="0.000"/><stop offset="0.560" stop-color="#000" stop-opacity="0.000"/><stop offset="0.565" stop-color="#000" stop-opacity="0.000"/><stop offset="0.570" stop-color="#000" stop-opacity="0.000"/><stop offset="0.575" stop-color="#000" stop-opacity="0.000"/><stop offset="0.580" stop-color="#000" stop-opacity="0.000"/><stop offset="0.585" stop-color="#000" stop-opacity="0.000"/><stop offset="0.590" stop-color="#000" stop-opacity="0.000"/><stop offset="0.595" stop-color="#000" stop-opacity="0.000"/><stop offset="0.600" stop-color="#000" stop-opacity="0.000"/><stop offset="0.605" stop-color="#000" stop-opacity="0.000"/><stop offset="0.610" stop-color="#000" stop-opacity="0.000"/><stop offset="0.615" stop-color="#000" stop-opacity="0.000"/><stop offset="0.620" stop-color="#000" stop-opacity="0.001"/><stop offset="0.625" stop-color="#000" stop-opacity="0.001"/><stop offset="0.630" stop-color="#000" stop-opacity="0.002"/><stop offset="0.635" stop-color="#000" stop-opacity="0.002"/><stop offset="0.640" stop-color="#000" stop-opacity="0.003"/><stop offset="0.645" stop-color="#000" stop-opacity="0.004"/><stop offset="0.650" stop-color="#000" stop-opacity="0.006"/><stop offset="0.655" stop-color="#000" stop-opacity="0.008"/><stop offset="0.660" stop-color="#000" stop-opacity="0.011"/><stop offset="0.665" stop-color="#000" stop-opacity="0.014"/><stop offset="0.670" stop-color="#000" stop-opacity="0.019"/><stop offset="0.675" stop-color="#000" stop-opacity="0.024"/><stop offset="0.680" stop-color="#000" stop-opacity="0.030"/><stop offset="0.685" stop-color="#000" stop-opacity="0.038"/><stop offset="0.690" stop-color="#000" stop-opacity="0.047"/><stop offset="0.695" stop-color="#000" stop-opacity="0.057"/><stop offset="0.700" stop-color="#000" stop-opacity="0.068"/><stop offset="0.705" stop-color="#000" stop-opacity="0.080"/><stop offset="0.710" stop-color="#000" stop-opacity="0.094"/><stop offset="0.715" stop-color="#000" stop-opacity="0.108"/><stop offset="0.720" stop-color="#000" stop-opacity="0.123"/><stop offset="0.725" stop-color="#000" stop-opacity="0.138"/><stop offset="0.730" stop-color="#000" stop-opacity="0.152"/><stop offset="0.735" stop-color="#000" stop-opacity="0.166"/><stop offset="0.740" stop-color="#000" stop-opacity="0.178"/><stop offset="0.745" stop-color="#000" stop-opacity="0.189"/><stop offset="0.750" stop-color="#000" stop-opacity="0.198"/><stop offset="0.755" stop-color="#000" stop-opacity="0.205"/><stop offset="0.760" stop-color="#000" stop-opacity="0.209"/><stop offset="0.765" stop-color="#000" stop-opacity="0.210"/><stop offset="0.770" stop-color="#000" stop-opacity="0.208"/><stop offset="0.775" stop-color="#000" stop-opacity="0.204"/><stop offset="0.780" stop-color="#000" stop-opacity="0.197"/><stop offset="0.785" stop-color="#000" stop-opacity="0.187"/><stop offset="0.790" stop-color="#000" stop-opacity="0.176"/><stop offset="0.795" stop-color="#000" stop-opacity="0.163"/><stop offset="0.800" stop-color="#000" stop-opacity="0.149"/><stop offset="0.805" stop-color="#000" stop-opacity="0.134"/><stop offset="0.810" stop-color="#000" stop-opacity="0.120"/><stop offset="0.815" stop-color="#000" stop-opacity="0.105"/><stop offset="0.820" stop-color="#000" stop-opacity="0.091"/><stop offset="0.825" stop-color="#000" stop-opacity="0.078"/><stop offset="0.830" stop-color="#000" stop-opacity="0.065"/><stop offset="0.835" stop-color="#000" stop-opacity="0.054"/><stop offset="0.840" stop-color="#000" stop-opacity="0.045"/><stop offset="0.845" stop-color="#000" stop-opacity="0.036"/><stop offset="0.850" stop-color="#000" stop-opacity="0.029"/><stop offset="0.855" stop-color="#000" stop-opacity="0.023"/><stop offset="0.860" stop-color="#000" stop-opacity="0.018"/><stop offset="0.865" stop-color="#000" stop-opacity="0.014"/><stop offset="0.870" stop-color="#000" stop-opacity="0.010"/><stop offset="0.875" stop-color="#000" stop-opacity="0.008"/><stop offset="0.880" stop-color="#000" stop-opacity="0.006"/><stop offset="0.885" stop-color="#000" stop-opacity="0.004"/><stop offset="0.890" stop-color="#000" stop-opacity="0.003"/><stop offset="0.895" stop-color="#000" stop-opacity="0.002"/><stop offset="0.900" stop-color="#000" stop-opacity="0.001"/><stop offset="0.905" stop-color="#000" stop-opacity="0.001"/><stop offset="0.910" stop-color="#000" stop-opacity="0.001"/><stop offset="0.915" stop-color="#000" stop-opacity="0.000"/><stop offset="0.920" stop-color="#000" stop-opacity="0.000"/><stop offset="0.925" stop-color="#000" stop-opacity="0.000"/><stop offset="0.930" stop-color="#000" stop-opacity="0.000"/><stop offset="0.935" stop-color="#000" stop-opacity="0.000"/><stop offset="0.940" stop-color="#000" stop-opacity="0.000"/><stop offset="0.945" stop-color="#000" stop-opacity="0.000"/><stop offset="0.950" stop-color="#000" stop-opacity="0.000"/><stop offset="0.955" stop-color="#000" stop-opacity="0.000"/><stop offset="0.960" stop-color="#000" stop-opacity="0.000"/><stop offset="0.965" stop-color="#000" stop-opacity="0.000"/><stop offset="0.970" stop-color="#000" stop-opacity="0.000"/><stop offset="0.975" stop-color="#000" stop-opacity="0.000"/><stop offset="0.980" stop-color="#000" stop-opacity="0.000"/><stop offset="0.985" stop-color="#000" stop-opacity="0.000"/><stop offset="0.990" stop-color="#000" stop-opacity="0.000"/><stop offset="0.995" stop-color="#000" stop-opacity="0.000"/><stop offset="1.000" stop-color="#000" stop-opacity="0.000"/></linearGradient><linearGradient id="ug5" gradientUnits="userSpaceOnUse" x1="0" y1="71.4" x2="0" y2="171.6"><stop offset="0.000" stop-color="#000" stop-opacity="0.000"/><stop offset="0.005" stop-color="#000" stop-opacity="0.000"/><stop offset="0.010" stop-color="#000" stop-opacity="0.000"/><stop offset="0.015" stop-color="#000" stop-opacity="0.000"/><stop offset="0.020" stop-color="#000" stop-opacity="0.001"/><stop offset="0.025" stop-color="#000" stop-opacity="0.001"/><stop offset="0.030" stop-color="#000" stop-opacity="0.002"/><stop offset="0.035" stop-color="#000" stop-opacity="0.002"/><stop offset="0.040" stop-color="#000" stop-opacity="0.003"/><stop offset="0.045" stop-color="#000" stop-opacity="0.005"/><stop offset="0.050" stop-color="#000" stop-opacity="0.007"/><stop offset="0.055" stop-color="#000" stop-opacity="0.009"/><stop offset="0.060" stop-color="#000" stop-opacity="0.012"/><stop offset="0.065" stop-color="#000" stop-opacity="0.016"/><stop offset="0.070" stop-color="#000" stop-opacity="0.020"/><stop offset="0.075" stop-color="#000" stop-opacity="0.026"/><stop offset="0.080" stop-color="#000" stop-opacity="0.032"/><stop offset="0.085" stop-color="#000" stop-opacity="0.039"/><stop offset="0.090" stop-color="#000" stop-opacity="0.047"/><stop offset="0.095" stop-color="#000" stop-opacity="0.055"/><stop offset="0.100" stop-color="#000" stop-opacity="0.063"/><stop offset="0.105" stop-color="#000" stop-opacity="0.072"/><stop offset="0.110" stop-color="#000" stop-opacity="0.081"/><stop offset="0.115" stop-color="#000" stop-opacity="0.090"/><stop offset="0.120" stop-color="#000" stop-opacity="0.100"/><stop offset="0.125" stop-color="#000" stop-opacity="0.110"/><stop offset="0.130" stop-color="#000" stop-opacity="0.123"/><stop offset="0.135" stop-color="#000" stop-opacity="0.137"/><stop offset="0.140" stop-color="#000" stop-opacity="0.155"/><stop offset="0.145" stop-color="#000" stop-opacity="0.177"/><stop offset="0.150" stop-color="#000" stop-opacity="0.205"/><stop offset="0.155" stop-color="#000" stop-opacity="0.238"/><stop offset="0.160" stop-color="#000" stop-opacity="0.278"/><stop offset="0.165" stop-color="#000" stop-opacity="0.325"/><stop offset="0.170" stop-color="#000" stop-opacity="0.377"/><stop offset="0.175" stop-color="#000" stop-opacity="0.434"/><stop offset="0.180" stop-color="#000" stop-opacity="0.493"/><stop offset="0.185" stop-color="#000" stop-opacity="0.554"/><stop offset="0.190" stop-color="#000" stop-opacity="0.614"/><stop offset="0.195" stop-color="#000" stop-opacity="0.671"/><stop offset="0.200" stop-color="#000" stop-opacity="0.724"/><stop offset="0.205" stop-color="#000" stop-opacity="0.772"/><stop offset="0.210" stop-color="#000" stop-opacity="0.813"/><stop offset="0.215" stop-color="#000" stop-opacity="0.848"/><stop offset="0.220" stop-color="#000" stop-opacity="0.877"/><stop offset="0.225" stop-color="#000" stop-opacity="0.900"/><stop offset="0.230" stop-color="#000" stop-opacity="0.918"/><stop offset="0.235" stop-color="#000" stop-opacity="0.933"/><stop offset="0.240" stop-color="#000" stop-opacity="0.944"/><stop offset="0.245" stop-color="#000" stop-opacity="0.952"/><stop offset="0.250" stop-color="#000" stop-opacity="0.959"/><stop offset="0.255" stop-color="#000" stop-opacity="0.965"/><stop offset="0.260" stop-color="#000" stop-opacity="0.969"/><stop offset="0.265" stop-color="#000" stop-opacity="0.973"/><stop offset="0.270" stop-color="#000" stop-opacity="0.977"/><stop offset="0.275" stop-color="#000" stop-opacity="0.980"/><stop offset="0.280" stop-color="#000" stop-opacity="0.983"/><stop offset="0.285" stop-color="#000" stop-opacity="0.985"/><stop offset="0.290" stop-color="#000" stop-opacity="0.988"/><stop offset="0.295" stop-color="#000" stop-opacity="0.990"/><stop offset="0.300" stop-color="#000" stop-opacity="0.992"/><stop offset="0.305" stop-color="#000" stop-opacity="0.993"/><stop offset="0.310" stop-color="#000" stop-opacity="0.994"/><stop offset="0.315" stop-color="#000" stop-opacity="0.995"/><stop offset="0.320" stop-color="#000" stop-opacity="0.995"/><stop offset="0.325" stop-color="#000" stop-opacity="0.995"/><stop offset="0.330" stop-color="#000" stop-opacity="0.994"/><stop offset="0.335" stop-color="#000" stop-opacity="0.993"/><stop offset="0.340" stop-color="#000" stop-opacity="0.992"/><stop offset="0.345" stop-color="#000" stop-opacity="0.990"/><stop offset="0.350" stop-color="#000" stop-opacity="0.988"/><stop offset="0.355" stop-color="#000" stop-opacity="0.986"/><stop offset="0.360" stop-color="#000" stop-opacity="0.984"/><stop offset="0.365" stop-color="#000" stop-opacity="0.981"/><stop offset="0.370" stop-color="#000" stop-opacity="0.978"/><stop offset="0.375" stop-color="#000" stop-opacity="0.975"/><stop offset="0.380" stop-color="#000" stop-opacity="0.972"/><stop offset="0.385" stop-color="#000" stop-opacity="0.969"/><stop offset="0.390" stop-color="#000" stop-opacity="0.965"/><stop offset="0.395" stop-color="#000" stop-opacity="0.961"/><stop offset="0.400" stop-color="#000" stop-opacity="0.954"/><stop offset="0.405" stop-color="#000" stop-opacity="0.942"/><stop offset="0.410" stop-color="#000" stop-opacity="0.920"/><stop offset="0.415" stop-color="#000" stop-opacity="0.880"/><stop offset="0.420" stop-color="#000" stop-opacity="0.817"/><stop offset="0.425" stop-color="#000" stop-opacity="0.725"/><stop offset="0.430" stop-color="#000" stop-opacity="0.608"/><stop offset="0.435" stop-color="#000" stop-opacity="0.475"/><stop offset="0.440" stop-color="#000" stop-opacity="0.342"/><stop offset="0.445" stop-color="#000" stop-opacity="0.225"/><stop offset="0.450" stop-color="#000" stop-opacity="0.135"/><stop offset="0.455" stop-color="#000" stop-opacity="0.073"/><stop offset="0.460" stop-color="#000" stop-opacity="0.035"/><stop offset="0.465" stop-color="#000" stop-opacity="0.015"/><stop offset="0.470" stop-color="#000" stop-opacity="0.006"/><stop offset="0.475" stop-color="#000" stop-opacity="0.002"/><stop offset="0.480" stop-color="#000" stop-opacity="0.001"/><stop offset="0.485" stop-color="#000" stop-opacity="0.000"/><stop offset="0.490" stop-color="#000" stop-opacity="0.000"/><stop offset="0.495" stop-color="#000" stop-opacity="0.000"/><stop offset="0.500" stop-color="#000" stop-opacity="0.000"/><stop offset="0.505" stop-color="#000" stop-opacity="0.000"/><stop offset="0.510" stop-color="#000" stop-opacity="0.000"/><stop offset="0.515" stop-color="#000" stop-opacity="0.000"/><stop offset="0.520" stop-color="#000" stop-opacity="0.000"/><stop offset="0.525" stop-color="#000" stop-opacity="0.000"/><stop offset="0.530" stop-color="#000" stop-opacity="0.000"/><stop offset="0.535" stop-color="#000" stop-opacity="0.000"/><stop offset="0.540" stop-color="#000" stop-opacity="0.000"/><stop offset="0.545" stop-color="#000" stop-opacity="0.000"/><stop offset="0.550" stop-color="#000" stop-opacity="0.000"/><stop offset="0.555" stop-color="#000" stop-opacity="0.000"/><stop offset="0.560" stop-color="#000" stop-opacity="0.000"/><stop offset="0.565" stop-color="#000" stop-opacity="0.000"/><stop offset="0.570" stop-color="#000" stop-opacity="0.000"/><stop offset="0.575" stop-color="#000" stop-opacity="0.000"/><stop offset="0.580" stop-color="#000" stop-opacity="0.000"/><stop offset="0.585" stop-color="#000" stop-opacity="0.000"/><stop offset="0.590" stop-color="#000" stop-opacity="0.000"/><stop offset="0.595" stop-color="#000" stop-opacity="0.000"/><stop offset="0.600" stop-color="#000" stop-opacity="0.000"/><stop offset="0.605" stop-color="#000" stop-opacity="0.000"/><stop offset="0.610" stop-color="#000" stop-opacity="0.000"/><stop offset="0.615" stop-color="#000" stop-opacity="0.000"/><stop offset="0.620" stop-color="#000" stop-opacity="0.000"/><stop offset="0.625" stop-color="#000" stop-opacity="0.000"/><stop offset="0.630" stop-color="#000" stop-opacity="0.000"/><stop offset="0.635" stop-color="#000" stop-opacity="0.000"/><stop offset="0.640" stop-color="#000" stop-opacity="0.000"/><stop offset="0.645" stop-color="#000" stop-opacity="0.000"/><stop offset="0.650" stop-color="#000" stop-opacity="0.000"/><stop offset="0.655" stop-color="#000" stop-opacity="0.000"/><stop offset="0.660" stop-color="#000" stop-opacity="0.000"/><stop offset="0.665" stop-color="#000" stop-opacity="0.000"/><stop offset="0.670" stop-color="#000" stop-opacity="0.000"/><stop offset="0.675" stop-color="#000" stop-opacity="0.000"/><stop offset="0.680" stop-color="#000" stop-opacity="0.000"/><stop offset="0.685" stop-color="#000" stop-opacity="0.000"/><stop offset="0.690" stop-color="#000" stop-opacity="0.000"/><stop offset="0.695" stop-color="#000" stop-opacity="0.000"/><stop offset="0.700" stop-color="#000" stop-opacity="0.000"/><stop offset="0.705" stop-color="#000" stop-opacity="0.000"/><stop offset="0.710" stop-color="#000" stop-opacity="0.000"/><stop offset="0.715" stop-color="#000" stop-opacity="0.000"/><stop offset="0.720" stop-color="#000" stop-opacity="0.000"/><stop offset="0.725" stop-color="#000" stop-opacity="0.000"/><stop offset="0.730" stop-color="#000" stop-opacity="0.000"/><stop offset="0.735" stop-color="#000" stop-opacity="0.000"/><stop offset="0.740" stop-color="#000" stop-opacity="0.000"/><stop offset="0.745" stop-color="#000" stop-opacity="0.000"/><stop offset="0.750" stop-color="#000" stop-opacity="0.000"/><stop offset="0.755" stop-color="#000" stop-opacity="0.000"/><stop offset="0.760" stop-color="#000" stop-opacity="0.000"/><stop offset="0.765" stop-color="#000" stop-opacity="0.000"/><stop offset="0.770" stop-color="#000" stop-opacity="0.000"/><stop offset="0.775" stop-color="#000" stop-opacity="0.000"/><stop offset="0.780" stop-color="#000" stop-opacity="0.000"/><stop offset="0.785" stop-color="#000" stop-opacity="0.000"/><stop offset="0.790" stop-color="#000" stop-opacity="0.000"/><stop offset="0.795" stop-color="#000" stop-opacity="0.000"/><stop offset="0.800" stop-color="#000" stop-opacity="0.000"/><stop offset="0.805" stop-color="#000" stop-opacity="0.000"/><stop offset="0.810" stop-color="#000" stop-opacity="0.000"/><stop offset="0.815" stop-color="#000" stop-opacity="0.000"/><stop offset="0.820" stop-color="#000" stop-opacity="0.000"/><stop offset="0.825" stop-color="#000" stop-opacity="0.000"/><stop offset="0.830" stop-color="#000" stop-opacity="0.000"/><stop offset="0.835" stop-color="#000" stop-opacity="0.000"/><stop offset="0.840" stop-color="#000" stop-opacity="0.000"/><stop offset="0.845" stop-color="#000" stop-opacity="0.000"/><stop offset="0.850" stop-color="#000" stop-opacity="0.000"/><stop offset="0.855" stop-color="#000" stop-opacity="0.000"/><stop offset="0.860" stop-color="#000" stop-opacity="0.000"/><stop offset="0.865" stop-color="#000" stop-opacity="0.000"/><stop offset="0.870" stop-color="#000" stop-opacity="0.000"/><stop offset="0.875" stop-color="#000" stop-opacity="0.000"/><stop offset="0.880" stop-color="#000" stop-opacity="0.000"/><stop offset="0.885" stop-color="#000" stop-opacity="0.000"/><stop offset="0.890" stop-color="#000" stop-opacity="0.000"/><stop offset="0.895" stop-color="#000" stop-opacity="0.000"/><stop offset="0.900" stop-color="#000" stop-opacity="0.000"/><stop offset="0.905" stop-color="#000" stop-opacity="0.000"/><stop offset="0.910" stop-color="#000" stop-opacity="0.000"/><stop offset="0.915" stop-color="#000" stop-opacity="0.000"/><stop offset="0.920" stop-color="#000" stop-opacity="0.000"/><stop offset="0.925" stop-color="#000" stop-opacity="0.000"/><stop offset="0.930" stop-color="#000" stop-opacity="0.000"/><stop offset="0.935" stop-color="#000" stop-opacity="0.000"/><stop offset="0.940" stop-color="#000" stop-opacity="0.000"/><stop offset="0.945" stop-color="#000" stop-opacity="0.000"/><stop offset="0.950" stop-color="#000" stop-opacity="0.000"/><stop offset="0.955" stop-color="#000" stop-opacity="0.000"/><stop offset="0.960" stop-color="#000" stop-opacity="0.000"/><stop offset="0.965" stop-color="#000" stop-opacity="0.000"/><stop offset="0.970" stop-color="#000" stop-opacity="0.000"/><stop offset="0.975" stop-color="#000" stop-opacity="0.000"/><stop offset="0.980" stop-color="#000" stop-opacity="0.000"/><stop offset="0.985" stop-color="#000" stop-opacity="0.000"/><stop offset="0.990" stop-color="#000" stop-opacity="0.000"/><stop offset="0.995" stop-color="#000" stop-opacity="0.000"/><stop offset="1.000" stop-color="#000" stop-opacity="0.000"/></linearGradient><linearGradient id="lg5" gradientUnits="userSpaceOnUse" x1="0" y1="71.4" x2="0" y2="171.6"><stop offset="0.000" stop-color="#000" stop-opacity="0.000"/><stop offset="0.005" stop-color="#000" stop-opacity="0.000"/><stop offset="0.010" stop-color="#000" stop-opacity="0.000"/><stop offset="0.015" stop-color="#000" stop-opacity="0.000"/><stop offset="0.020" stop-color="#000" stop-opacity="0.000"/><stop offset="0.025" stop-color="#000" stop-opacity="0.000"/><stop offset="0.030" stop-color="#000" stop-opacity="0.000"/><stop offset="0.035" stop-color="#000" stop-opacity="0.000"/><stop offset="0.040" stop-color="#000" stop-opacity="0.000"/><stop offset="0.045" stop-color="#000" stop-opacity="0.000"/><stop offset="0.050" stop-color="#000" stop-opacity="0.000"/><stop offset="0.055" stop-color="#000" stop-opacity="0.000"/><stop offset="0.060" stop-color="#000" stop-opacity="0.000"/><stop offset="0.065" stop-color="#000" stop-opacity="0.000"/><stop offset="0.070" stop-color="#000" stop-opacity="0.000"/><stop offset="0.075" stop-color="#000" stop-opacity="0.000"/><stop offset="0.080" stop-color="#000" stop-opacity="0.000"/><stop offset="0.085" stop-color="#000" stop-opacity="0.000"/><stop offset="0.090" stop-color="#000" stop-opacity="0.000"/><stop offset="0.095" stop-color="#000" stop-opacity="0.000"/><stop offset="0.100" stop-color="#000" stop-opacity="0.000"/><stop offset="0.105" stop-color="#000" stop-opacity="0.000"/><stop offset="0.110" stop-color="#000" stop-opacity="0.000"/><stop offset="0.115" stop-color="#000" stop-opacity="0.000"/><stop offset="0.120" stop-color="#000" stop-opacity="0.000"/><stop offset="0.125" stop-color="#000" stop-opacity="0.000"/><stop offset="0.130" stop-color="#000" stop-opacity="0.000"/><stop offset="0.135" stop-color="#000" stop-opacity="0.000"/><stop offset="0.140" stop-color="#000" stop-opacity="0.000"/><stop offset="0.145" stop-color="#000" stop-opacity="0.000"/><stop offset="0.150" stop-color="#000" stop-opacity="0.000"/><stop offset="0.155" stop-color="#000" stop-opacity="0.000"/><stop offset="0.160" stop-color="#000" stop-opacity="0.000"/><stop offset="0.165" stop-color="#000" stop-opacity="0.000"/><stop offset="0.170" stop-color="#000" stop-opacity="0.000"/><stop offset="0.175" stop-color="#000" stop-opacity="0.000"/><stop offset="0.180" stop-color="#000" stop-opacity="0.000"/><stop offset="0.185" stop-color="#000" stop-opacity="0.000"/><stop offset="0.190" stop-color="#000" stop-opacity="0.000"/><stop offset="0.195" stop-color="#000" stop-opacity="0.000"/><stop offset="0.200" stop-color="#000" stop-opacity="0.000"/><stop offset="0.205" stop-color="#000" stop-opacity="0.000"/><stop offset="0.210" stop-color="#000" stop-opacity="0.000"/><stop offset="0.215" stop-color="#000" stop-opacity="0.000"/><stop offset="0.220" stop-color="#000" stop-opacity="0.000"/><stop offset="0.225" stop-color="#000" stop-opacity="0.000"/><stop offset="0.230" stop-color="#000" stop-opacity="0.000"/><stop offset="0.235" stop-color="#000" stop-opacity="0.000"/><stop offset="0.240" stop-color="#000" stop-opacity="0.000"/><stop offset="0.245" stop-color="#000" stop-opacity="0.000"/><stop offset="0.250" stop-color="#000" stop-opacity="0.000"/><stop offset="0.255" stop-color="#000" stop-opacity="0.000"/><stop offset="0.260" stop-color="#000" stop-opacity="0.000"/><stop offset="0.265" stop-color="#000" stop-opacity="0.000"/><stop offset="0.270" stop-color="#000" stop-opacity="0.000"/><stop offset="0.275" stop-color="#000" stop-opacity="0.000"/><stop offset="0.280" stop-color="#000" stop-opacity="0.000"/><stop offset="0.285" stop-color="#000" stop-opacity="0.000"/><stop offset="0.290" stop-color="#000" stop-opacity="0.000"/><stop offset="0.295" stop-color="#000" stop-opacity="0.000"/><stop offset="0.300" stop-color="#000" stop-opacity="0.000"/><stop offset="0.305" stop-color="#000" stop-opacity="0.000"/><stop offset="0.310" stop-color="#000" stop-opacity="0.000"/><stop offset="0.315" stop-color="#000" stop-opacity="0.000"/><stop offset="0.320" stop-color="#000" stop-opacity="0.000"/><stop offset="0.325" stop-color="#000" stop-opacity="0.000"/><stop offset="0.330" stop-color="#000" stop-opacity="0.000"/><stop offset="0.335" stop-color="#000" stop-opacity="0.000"/><stop offset="0.340" stop-color="#000" stop-opacity="0.000"/><stop offset="0.345" stop-color="#000" stop-opacity="0.000"/><stop offset="0.350" stop-color="#000" stop-opacity="0.000"/><stop offset="0.355" stop-color="#000" stop-opacity="0.000"/><stop offset="0.360" stop-color="#000" stop-opacity="0.000"/><stop offset="0.365" stop-color="#000" stop-opacity="0.000"/><stop offset="0.370" stop-color="#000" stop-opacity="0.000"/><stop offset="0.375" stop-color="#000" stop-opacity="0.000"/><stop offset="0.380" stop-color="#000" stop-opacity="0.000"/><stop offset="0.385" stop-color="#000" stop-opacity="0.000"/><stop offset="0.390" stop-color="#000" stop-opacity="0.000"/><stop offset="0.395" stop-color="#000" stop-opacity="0.000"/><stop offset="0.400" stop-color="#000" stop-opacity="0.000"/><stop offset="0.405" stop-color="#000" stop-opacity="0.000"/><stop offset="0.410" stop-color="#000" stop-opacity="0.000"/><stop offset="0.415" stop-color="#000" stop-opacity="0.000"/><stop offset="0.420" stop-color="#000" stop-opacity="0.000"/><stop offset="0.425" stop-color="#000" stop-opacity="0.000"/><stop offset="0.430" stop-color="#000" stop-opacity="0.000"/><stop offset="0.435" stop-color="#000" stop-opacity="0.000"/><stop offset="0.440" stop-color="#000" stop-opacity="0.000"/><stop offset="0.445" stop-color="#000" stop-opacity="0.000"/><stop offset="0.450" stop-color="#000" stop-opacity="0.000"/><stop offset="0.455" stop-color="#000" stop-opacity="0.000"/><stop offset="0.460" stop-color="#000" stop-opacity="0.000"/><stop offset="0.465" stop-color="#000" stop-opacity="0.000"/><stop offset="0.470" stop-color="#000" stop-opacity="0.000"/><stop offset="0.475" stop-color="#000" stop-opacity="0.000"/><stop offset="0.480" stop-color="#000" stop-opacity="0.000"/><stop offset="0.485" stop-color="#000" stop-opacity="0.000"/><stop offset="0.490" stop-color="#000" stop-opacity="0.000"/><stop offset="0.495" stop-color="#000" stop-opacity="0.000"/><stop offset="0.500" stop-color="#000" stop-opacity="0.000"/><stop offset="0.505" stop-color="#000" stop-opacity="0.000"/><stop offset="0.510" stop-color="#000" stop-opacity="0.000"/><stop offset="0.515" stop-color="#000" stop-opacity="0.000"/><stop offset="0.520" stop-color="#000" stop-opacity="0.000"/><stop offset="0.525" stop-color="#000" stop-opacity="0.000"/><stop offset="0.530" stop-color="#000" stop-opacity="0.000"/><stop offset="0.535" stop-color="#000" stop-opacity="0.000"/><stop offset="0.540" stop-color="#000" stop-opacity="0.000"/><stop offset="0.545" stop-color="#000" stop-opacity="0.000"/><stop offset="0.550" stop-color="#000" stop-opacity="0.000"/><stop offset="0.555" stop-color="#000" stop-opacity="0.000"/><stop offset="0.560" stop-color="#000" stop-opacity="0.000"/><stop offset="0.565" stop-color="#000" stop-opacity="0.000"/><stop offset="0.570" stop-color="#000" stop-opacity="0.000"/><stop offset="0.575" stop-color="#000" stop-opacity="0.000"/><stop offset="0.580" stop-color="#000" stop-opacity="0.000"/><stop offset="0.585" stop-color="#000" stop-opacity="0.000"/><stop offset="0.590" stop-color="#000" stop-opacity="0.000"/><stop offset="0.595" stop-color="#000" stop-opacity="0.000"/><stop offset="0.600" stop-color="#000" stop-opacity="0.000"/><stop offset="0.605" stop-color="#000" stop-opacity="0.000"/><stop offset="0.610" stop-color="#000" stop-opacity="0.000"/><stop offset="0.615" stop-color="#000" stop-opacity="0.000"/><stop offset="0.620" stop-color="#000" stop-opacity="0.000"/><stop offset="0.625" stop-color="#000" stop-opacity="0.000"/><stop offset="0.630" stop-color="#000" stop-opacity="0.000"/><stop offset="0.635" stop-color="#000" stop-opacity="0.000"/><stop offset="0.640" stop-color="#000" stop-opacity="0.000"/><stop offset="0.645" stop-color="#000" stop-opacity="0.000"/><stop offset="0.650" stop-color="#000" stop-opacity="0.000"/><stop offset="0.655" stop-color="#000" stop-opacity="0.000"/><stop offset="0.660" stop-color="#000" stop-opacity="0.000"/><stop offset="0.665" stop-color="#000" stop-opacity="0.000"/><stop offset="0.670" stop-color="#000" stop-opacity="0.000"/><stop offset="0.675" stop-color="#000" stop-opacity="0.000"/><stop offset="0.680" stop-color="#000" stop-opacity="0.000"/><stop offset="0.685" stop-color="#000" stop-opacity="0.001"/><stop offset="0.690" stop-color="#000" stop-opacity="0.001"/><stop offset="0.695" stop-color="#000" stop-opacity="0.002"/><stop offset="0.700" stop-color="#000" stop-opacity="0.002"/><stop offset="0.705" stop-color="#000" stop-opacity="0.003"/><stop offset="0.710" stop-color="#000" stop-opacity="0.005"/><stop offset="0.715" stop-color="#000" stop-opacity="0.006"/><stop offset="0.720" stop-color="#000" stop-opacity="0.009"/><stop offset="0.725" stop-color="#000" stop-opacity="0.012"/><stop offset="0.730" stop-color="#000" stop-opacity="0.016"/><stop offset="0.735" stop-color="#000" stop-opacity="0.021"/><stop offset="0.740" stop-color="#000" stop-opacity="0.027"/><stop offset="0.745" stop-color="#000" stop-opacity="0.034"/><stop offset="0.750" stop-color="#000" stop-opacity="0.044"/><stop offset="0.755" stop-color="#000" stop-opacity="0.054"/><stop offset="0.760" stop-color="#000" stop-opacity="0.067"/><stop offset="0.765" stop-color="#000" stop-opacity="0.081"/><stop offset="0.770" stop-color="#000" stop-opacity="0.098"/><stop offset="0.775" stop-color="#000" stop-opacity="0.115"/><stop offset="0.780" stop-color="#000" stop-opacity="0.135"/><stop offset="0.785" stop-color="#000" stop-opacity="0.155"/><stop offset="0.790" stop-color="#000" stop-opacity="0.176"/><stop offset="0.795" stop-color="#000" stop-opacity="0.197"/><stop offset="0.800" stop-color="#000" stop-opacity="0.218"/><stop offset="0.805" stop-color="#000" stop-opacity="0.238"/><stop offset="0.810" stop-color="#000" stop-opacity="0.255"/><stop offset="0.815" stop-color="#000" stop-opacity="0.271"/><stop offset="0.820" stop-color="#000" stop-opacity="0.284"/><stop offset="0.825" stop-color="#000" stop-opacity="0.293"/><stop offset="0.830" stop-color="#000" stop-opacity="0.298"/><stop offset="0.835" stop-color="#000" stop-opacity="0.300"/><stop offset="0.840" stop-color="#000" stop-opacity="0.297"/><stop offset="0.845" stop-color="#000" stop-opacity="0.291"/><stop offset="0.850" stop-color="#000" stop-opacity="0.281"/><stop offset="0.855" stop-color="#000" stop-opacity="0.267"/><stop offset="0.860" stop-color="#000" stop-opacity="0.251"/><stop offset="0.865" stop-color="#000" stop-opacity="0.232"/><stop offset="0.870" stop-color="#000" stop-opacity="0.212"/><stop offset="0.875" stop-color="#000" stop-opacity="0.191"/><stop offset="0.880" stop-color="#000" stop-opacity="0.170"/><stop offset="0.885" stop-color="#000" stop-opacity="0.149"/><stop offset="0.890" stop-color="#000" stop-opacity="0.129"/><stop offset="0.895" stop-color="#000" stop-opacity="0.110"/><stop offset="0.900" stop-color="#000" stop-opacity="0.093"/><stop offset="0.905" stop-color="#000" stop-opacity="0.077"/><stop offset="0.910" stop-color="#000" stop-opacity="0.063"/><stop offset="0.915" stop-color="#000" stop-opacity="0.051"/><stop offset="0.920" stop-color="#000" stop-opacity="0.041"/><stop offset="0.925" stop-color="#000" stop-opacity="0.032"/><stop offset="0.930" stop-color="#000" stop-opacity="0.025"/><stop offset="0.935" stop-color="#000" stop-opacity="0.019"/><stop offset="0.940" stop-color="#000" stop-opacity="0.014"/><stop offset="0.945" stop-color="#000" stop-opacity="0.011"/><stop offset="0.950" stop-color="#000" stop-opacity="0.008"/><stop offset="0.955" stop-color="#000" stop-opacity="0.006"/><stop offset="0.960" stop-color="#000" stop-opacity="0.004"/><stop offset="0.965" stop-color="#000" stop-opacity="0.003"/><stop offset="0.970" stop-color="#000" stop-opacity="0.002"/><stop offset="0.975" stop-color="#000" stop-opacity="0.001"/><stop offset="0.980" stop-color="#000" stop-opacity="0.001"/><stop offset="0.985" stop-color="#000" stop-opacity="0.001"/><stop offset="0.990" stop-color="#000" stop-opacity="0.000"/><stop offset="0.995" stop-color="#000" stop-opacity="0.000"/><stop offset="1.000" stop-color="#000" stop-opacity="0.000"/></linearGradient><linearGradient id="bgg" x1="0" y1="0" x2="0" y2="1"><stop offset="0" stop-color="#f3f3f3"/><stop offset="0.05" stop-color="#ededed"/><stop offset="0.14" stop-color="#f0f0f0"/><stop offset="0.5" stop-color="#f5f5f5"/><stop offset="0.95" stop-color="#f5f5f5"/><stop offset="1" stop-color="#f8f8f8"/></linearGradient><filter id="hb" x="-5%" y="-5%" width="110%" height="110%"><feGaussianBlur stdDeviation="0.3 0.3"/></filter><filter id="hb2" x="-5%" y="-5%" width="110%" height="110%"><feGaussianBlur stdDeviation="1.0 0.7"/></filter></defs>
<g transform="translate(0 120) skewX(1.4) translate(0 -120)">
<rect x="572.3" y="71.4" width="54.2" height="100.19999999999999" fill="url(#bgg)" filter="url(#hb)"/>
<rect x="574.3" y="71.4" width="50.2" height="100.19999999999999" fill="url(#ug0)" filter="url(#hb2)"/>
<rect x="574.0" y="71.4" width="50.8" height="100.19999999999999" fill="url(#lg0)" filter="url(#hb2)"/>
<rect x="629.3" y="71.4" width="54.2" height="100.19999999999999" fill="url(#bgg)" filter="url(#hb)"/>
<rect x="631.3" y="71.4" width="50.2" height="100.19999999999999" fill="url(#ug1)" filter="url(#hb2)"/>
<rect x="631.0" y="71.4" width="50.8" height="100.19999999999999" fill="url(#lg1)" filter="url(#hb2)"/>
<rect x="686.3" y="71.4" width="54.2" height="100.19999999999999" fill="url(#bgg)" filter="url(#hb)"/>
<rect x="688.3" y="71.4" width="50.2" height="100.19999999999999" fill="url(#ug2)" filter="url(#hb2)"/>
<rect x="688.0" y="71.4" width="50.8" height="100.19999999999999" fill="url(#lg2)" filter="url(#hb2)"/>
<rect x="743.3" y="71.4" width="54.2" height="100.19999999999999" fill="url(#bgg)" filter="url(#hb)"/>
<rect x="745.3" y="71.4" width="50.2" height="100.19999999999999" fill="url(#ug3)" filter="url(#hb2)"/>
<rect x="745.0" y="71.4" width="50.8" height="100.19999999999999" fill="url(#lg3)" filter="url(#hb2)"/>
<rect x="800.3" y="71.4" width="54.2" height="100.19999999999999" fill="url(#bgg)" filter="url(#hb)"/>
<rect x="802.3" y="71.4" width="50.2" height="100.19999999999999" fill="url(#ug4)" filter="url(#hb2)"/>
<rect x="802.0" y="71.4" width="50.8" height="100.19999999999999" fill="url(#lg4)" filter="url(#hb2)"/>
<rect x="857.3" y="71.4" width="54.2" height="100.19999999999999" fill="url(#bgg)" filter="url(#hb)"/>
<rect x="859.3" y="71.4" width="50.2" height="100.19999999999999" fill="url(#ug5)" filter="url(#hb2)"/>
<rect x="859.0" y="71.4" width="50.8" height="100.19999999999999" fill="url(#lg5)" filter="url(#hb2)"/>
</g>
<g transform="translate(600.8 42.699999999999996) rotate(-52) scale(0.955 1)"><text class="b" font-size="12.6" text-anchor="middle" y="-2.9">Female</text><text class="b" font-size="12.6" text-anchor="middle" y="11.9">44 dGA</text></g>
<g transform="translate(656.8 41.9) rotate(-52) scale(0.955 1)"><text class="b" font-size="12.6" text-anchor="middle" y="-2.9">Male</text><text class="b" font-size="12.6" text-anchor="middle" y="11.9">61 dGA</text></g>
<g transform="translate(715.5999999999999 39.9) rotate(-52) scale(0.955 1)"><text class="b" font-size="12.6" text-anchor="middle" y="-2.9">Female</text><text class="b" font-size="12.6" text-anchor="middle" y="11.9">125 dGA</text></g>
<g transform="translate(773.4 39.599999999999994) rotate(-52) scale(0.955 1)"><text class="b" font-size="12.6" text-anchor="middle" y="-2.9">Male</text><text class="b" font-size="12.6" text-anchor="middle" y="11.9">120 dGA</text></g>
<g transform="translate(830.0999999999999 39.3) rotate(-52) scale(0.955 1)"><text class="b" font-size="12.6" text-anchor="middle" y="-2.9">Female</text><text class="b" font-size="12.6" text-anchor="middle" y="11.9">266 dGA</text></g>
<g transform="translate(888.5999999999999 39.0) rotate(-52) scale(0.955 1)"><text class="b" font-size="12.6" text-anchor="middle" y="-2.9">Male</text><text class="b" font-size="12.6" text-anchor="middle" y="11.9">273 dGA</text></g>
<text class="b" x="513.8" y="100.3" font-size="14.4">116 kD</text>
<rect x="566.4" y="95.3" width="2.8" height="1.1" fill="#222"/>
<text class="b" x="516.8" y="151.2" font-size="14.5">60 kD</text>
<text class="b" x="916.6" y="100.4" font-size="14.9">Vinculin</text>
<text class="b" x="919.8" y="151.5" font-size="14.1">TPH-1</text>
<rect x="916" y="149" width="1.2" height="1.2" fill="#333"/>
<text class="b" x="477.6" y="196.6" font-size="18.2">D.</text>
<path d="M569.2 205V477.5H931" fill="none" stroke="#000" stroke-width="2.6"/>
<line x1="560.4" y1="477.5" x2="569.2" y2="477.5" stroke="#000" stroke-width="2.4"/>
<text class="b" x="559.6" y="482.0" font-size="12.6" text-anchor="end">0</text>
<line x1="560.4" y1="423.0" x2="569.2" y2="423.0" stroke="#000" stroke-width="2.4"/>
<text class="b" x="559.6" y="427.5" font-size="12.6" text-anchor="end">1</text>
<line x1="560.4" y1="368.5" x2="569.2" y2="368.5" stroke="#000" stroke-width="2.4"/>
<text class="b" x="559.6" y="373.0" font-size="12.6" text-anchor="end">2</text>
<line x1="560.4" y1="314.0" x2="569.2" y2="314.0" stroke="#000" stroke-width="2.4"/>
<text class="b" x="559.6" y="318.5" font-size="12.6" text-anchor="end">3</text>
<line x1="560.4" y1="259.5" x2="569.2" y2="259.5" stroke="#000" stroke-width="2.4"/>
<text class="b" x="559.6" y="264.0" font-size="12.6" text-anchor="end">4</text>
<line x1="560.4" y1="205.0" x2="569.2" y2="205.0" stroke="#000" stroke-width="2.4"/>
<text class="b" x="559.6" y="209.5" font-size="12.6" text-anchor="end">5</text>
<line x1="623.8" y1="477.5" x2="623.8" y2="486.5" stroke="#000" stroke-width="2.4"/>
<line x1="749.9" y1="477.5" x2="749.9" y2="486.5" stroke="#000" stroke-width="2.4"/>
<line x1="876.0" y1="477.5" x2="876.0" y2="486.5" stroke="#000" stroke-width="2.4"/>
<line x1="600.85" y1="271.0" x2="600.85" y2="249.4" stroke="#000" stroke-width="2.2"/>
<line x1="592.0500000000001" y1="249.4" x2="609.65" y2="249.4" stroke="#000" stroke-width="2.2"/>
<rect x="585.3000000000001" y="270.8" width="31.09999999999991" height="206.7" fill="#000"/>
<rect x="587.9000000000001" y="273.40000000000003" width="25.89999999999991" height="204.1" fill="#dcdcdc"/>
<rect x="588.8000000000001" y="274.3" width="24.09999999999991" height="203.2" fill="#bfbfbf"/>
<line x1="647.8" y1="356.5" x2="647.8" y2="340.8" stroke="#000" stroke-width="2.2"/>
<line x1="639.0" y1="340.8" x2="656.5999999999999" y2="340.8" stroke="#000" stroke-width="2.2"/>
<rect x="632.3000000000001" y="356.3" width="30.999999999999886" height="121.2" fill="#000"/>
<rect x="634.6000000000001" y="358.70000000000005" width="26.39999999999989" height="118.80000000000001" fill="#1e1e1e"/>
<line x1="726.3" y1="372.7" x2="726.3" y2="356.2" stroke="#000" stroke-width="2.2"/>
<line x1="717.5" y1="356.2" x2="735.0999999999999" y2="356.2" stroke="#000" stroke-width="2.2"/>
<rect x="710.5" y="372.5" width="31.59999999999991" height="105.00000000000001" fill="#000"/>
<rect x="713.1" y="375.1" width="26.39999999999991" height="102.40000000000002" fill="#dcdcdc"/>
<rect x="714.0" y="376.0" width="24.59999999999991" height="101.50000000000001" fill="#bfbfbf"/>
<line x1="773.4" y1="395.8" x2="773.4" y2="383.5" stroke="#000" stroke-width="2.2"/>
<line x1="764.6" y1="383.5" x2="782.1999999999999" y2="383.5" stroke="#000" stroke-width="2.2"/>
<rect x="757.5" y="395.6" width="31.799999999999955" height="81.89999999999999" fill="#000"/>
<rect x="759.8000000000001" y="398.00000000000006" width="27.199999999999957" height="79.5" fill="#1e1e1e"/>
<line x1="851.8" y1="423.2" x2="851.8" y2="415.4" stroke="#000" stroke-width="2.2"/>
<line x1="843.0" y1="415.4" x2="860.5999999999999" y2="415.4" stroke="#000" stroke-width="2.2"/>
<rect x="835.9000000000001" y="423.0" width="31.79999999999984" height="54.500000000000014" fill="#000"/>
<rect x="838.5000000000001" y="425.6" width="26.59999999999984" height="51.90000000000001" fill="#dcdcdc"/>
<rect x="839.4000000000001" y="426.5" width="24.79999999999984" height="51.000000000000014" fill="#bfbfbf"/>
<line x1="898.95" y1="409.3" x2="898.95" y2="400.1" stroke="#000" stroke-width="2.2"/>
<line x1="890.1500000000001" y1="400.1" x2="907.75" y2="400.1" stroke="#000" stroke-width="2.2"/>
<rect x="883.3000000000001" y="409.1" width="31.29999999999984" height="68.39999999999999" fill="#000"/>
<rect x="885.6000000000001" y="411.50000000000006" width="26.699999999999843" height="66.0" fill="#1e1e1e"/>
<text x="600.8" y="245.8" font-size="25" font-weight="bold" letter-spacing="1" text-anchor="middle">**</text>
<rect x="772.2" y="233.1" width="21.8" height="12.4" fill="#000"/><rect x="774.5" y="235.4" width="17.2" height="7.8" fill="#dcdcdc"/><rect x="775.4" y="236.3" width="15.4" height="6" fill="#c0c0c0"/>
<rect x="772.2" y="260" width="21.8" height="12.4" fill="#000"/><rect x="774.3" y="262.1" width="17.6" height="8.2" fill="#1e1e1e"/>
<text x="804.0" y="244.4" font-size="14.3" stroke="#000" stroke-width="0.15">Female</text>
<text x="804.0" y="271.1" font-size="14.3" stroke="#000" stroke-width="0.15">Male</text>
<text class="b" font-size="16.9" text-anchor="middle" transform="translate(535.8 340.9) rotate(-90)">Relative Protein Level</text>
<text class="b" font-size="16.9" text-anchor="middle" transform="translate(515.7 342.2) rotate(-90)">TPH-1</text>
<text class="b" x="582.8" y="500.6" font-size="13.8">1<tspan font-size="9.8" dy="-5.2">st</tspan><tspan dy="5.2" dx="0.6"> Trimester</tspan></text>
<text class="b" x="706.8" y="500.6" font-size="13.8">2<tspan font-size="9.8" dy="-5.2">nd</tspan><tspan dy="5.2" dx="0.6"> Trimester</tspan></text>
<text class="b" x="875.5" y="500.2" font-size="13.8" text-anchor="middle">Term</text>
</g></svg>
</body></html>
